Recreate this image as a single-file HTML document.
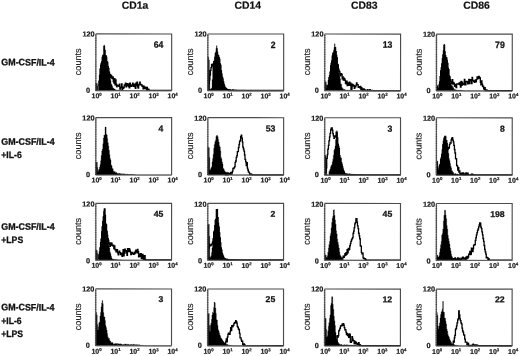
<!DOCTYPE html>
<html lang="en"><head><meta charset="utf-8"><title>Flow cytometry histograms</title>
<style>html,body{margin:0;padding:0;background:#fff}body{width:520px;height:356px;overflow:hidden}svg{display:block}text{font-family:"Liberation Sans",Arial,Helvetica,sans-serif;fill:#111;stroke:#111;stroke-width:.3px;stroke-linejoin:round}.h{font-size:10.4px;font-weight:bold;stroke-width:.2px}.r{font-size:9.4px;font-weight:bold}.n{font-weight:bold;text-anchor:end;stroke-width:.25px}.t{font-size:7.3px;font-weight:bold;fill:#1a1a1a;stroke-width:.2px}.c{font-size:9.1px;fill:#222;stroke:#222;stroke-width:.15px}.x{font-size:7px;font-weight:bold;fill:#1a1a1a;stroke-width:.2px}.s{font-size:4.3px;stroke-width:.2px}</style></head><body>
<svg width="520" height="356" viewBox="0 0 520 356" style="will-change:transform">
<rect width="520" height="356" fill="#fff"/>
<g transform="rotate(0.03 260 178)">
<text class="h" x="121.7" y="8.7">CD1a</text>
<text class="h" x="234.3" y="8.7">CD14</text>
<text class="h" x="350.9" y="8.7">CD83</text>
<text class="h" x="463.2" y="8.7">CD86</text>
<text class="r" x="1.3" y="65.5" textLength="53.3" lengthAdjust="spacingAndGlyphs">GM-CSF/IL-4</text>
<text class="r" x="1.3" y="144.8" textLength="53.3" lengthAdjust="spacingAndGlyphs">GM-CSF/IL-4</text>
<text class="r" x="1.3" y="158.0" textLength="20.4" lengthAdjust="spacingAndGlyphs">+IL-6</text>
<text class="r" x="1.3" y="229.8" textLength="53.3" lengthAdjust="spacingAndGlyphs">GM-CSF/IL-4</text>
<text class="r" x="1.3" y="243.0" textLength="21.9" lengthAdjust="spacingAndGlyphs">+LPS</text>
<text class="r" x="1.3" y="310.5" textLength="53.3" lengthAdjust="spacingAndGlyphs">GM-CSF/IL-4</text>
<text class="r" x="1.3" y="323.8" textLength="20.4" lengthAdjust="spacingAndGlyphs">+IL-6</text>
<text class="r" x="1.3" y="336.7" textLength="21.9" lengthAdjust="spacingAndGlyphs">+LPS</text>
<g>
<path d="M95.6,90.8V83.4H96.2V83.1H96.7V83.7H97.3V86.1H97.8V90.5H98.4V84.8H98.9V80.6H99.5V74.9H100.0V68.6H100.6V64.8H101.1V62.9H101.7V61.3H102.2V56.8H102.8V55.0H103.3V55.5H103.9V45.1H104.4V50.0H105.0V57.7H105.5V55.4H106.1V56.9H106.6V61.4H107.2V61.9H107.7V66.2H108.3V68.0H108.8V72.2H109.4V77.0H109.9V78.9H110.5V80.6H111.0V84.0H111.6V84.9H112.1V86.3H112.7V88.2H113.2V88.3H113.8V89.2H114.3V89.1H114.9V89.7H115.4V90.1H116.0V90.3H116.5V90.0H117.1V90.1H117.6V90.6H118.2V90.0H118.7V90.2H119.3V90.2H119.8V90.2H120.4V90.8H120.9V90.4H121.5V90.3H122.0V90.4H122.6V90.7H123.1V90.4H123.7V90.6H124.2V90.7H124.8V90.6H125.3V90.8H125.9V90.4H126.4V90.8H127.0V90.8H127.5V90.8H128.1V90.8H128.6V90.8H129.2V90.8H129.7V90.8H130.3V90.8H130.8V90.8H131.4V90.8H131.9V90.8H132.5V90.8H133.0V90.8H133.6V90.8H134.2V90.8H134.7V90.8H135.3V90.8H135.8V90.8H136.4V90.8H136.9V90.8H137.5V90.8H138.0V90.8H138.6V90.8H139.1V90.8H139.7V90.8H140.2V90.8H140.8V90.8H141.3V90.8H141.9V90.8H142.4V90.8H143.0V90.8H143.5V90.8H144.1V90.8H144.6V90.8H145.2V90.8H145.7V90.8H146.3V90.8H146.8V90.8H147.4V90.8H147.9V90.8H148.5V90.8H149.0V90.8H149.6V90.8H150.1V90.8H150.7V90.8H151.2V90.8H151.8V90.8H152.3V90.8H152.9V90.8H153.4V90.8H154.0V90.8H154.5V90.8H155.1V90.8H155.6V90.8H156.2V90.8H156.7V90.8H157.3V90.8H157.8V90.8H158.4V90.8H158.9V90.8H159.5V90.8H160.0V90.8H160.6V90.8H161.1V90.8H161.7V90.8H162.2V90.8H162.8V90.8H163.3V90.8H163.9V90.8H164.4V90.8H165.0V90.8H165.5V90.8H166.1V90.8H166.6V90.8H167.2V90.8H167.7V90.8H168.3V90.8H168.8V90.8H169.4V90.8H169.9V90.8H170.5V90.8H171.0V90.8H171.6V90.8Z" fill="#000" stroke="#000" stroke-width="0.3" stroke-linejoin="miter"/>
<path d="M98.4,85.4H98.9V81.2H99.5V75.5H100.0V69.2H100.6V65.4H101.1V63.5H101.7V61.9H102.2V57.4H102.8V55.6H103.3V56.1H103.9V46.5H104.4V50.6H105.0V58.3H105.5V56.0H106.1V57.5H106.6V62.0H107.2V62.5H107.7V66.8H108.3V68.5H108.8V72.2H109.4V76.6H109.9V74.5H110.5V77.9H111.0V75.4H111.6V77.1H112.1V78.8H112.7V76.9H113.2V81.8H113.8V83.2H114.3V78.7H114.9V85.0H115.4V79.9H116.0V84.1H116.5V86.8H117.1V85.2H117.6V85.5H118.2V85.6H118.7V86.5H119.3V84.3H119.8V89.2H120.4V87.5H120.9V87.1H121.5V83.9H122.0V89.4H122.6V87.1H123.1V88.4H123.7V87.5H124.2V85.0H124.8V85.3H125.3V83.3H125.9V87.0H126.4V85.4H127.0V83.7H127.5V84.3H128.1V86.6H128.6V84.0H129.2V87.8H129.7V83.3H130.3V86.0H130.8V86.5H131.4V85.9H131.9V84.7H132.5V83.1H133.0V86.1H133.6V86.4H134.2V84.3H134.7V87.0H135.3V88.3H135.8V83.2H136.4V85.5H136.9V82.3H137.5V86.8H138.0V88.1H138.6V84.4H139.1V84.8H139.7V82.1H140.2V84.4H140.8V84.9H141.3V84.6H141.9V86.5H142.4V86.0H143.0V88.9H143.5V86.1H144.1V88.7H144.6V88.5H145.2V87.3H145.7V87.4H146.3V90.2H146.8V87.5H147.4V90.3H147.9V89.2H148.5V89.5H149.0V90.4H149.6V90.5H150.1V90.5H150.7V90.5H151.2V90.5H151.8V90.5H152.3V90.5H152.9V90.5H153.4V90.5H154.0V90.5H154.5V90.5H155.1V90.5H155.6V90.5H156.2V90.5H156.7V90.5H157.3V90.5H157.8V90.5H158.4V90.5H158.9V90.5H159.5V90.5H160.0V90.5H160.6V90.5H161.1V90.5H161.7V90.5H162.2V90.5H162.8V90.5H163.3V90.5H163.9V90.5H164.4V90.5H165.0V90.5H165.5V90.5H166.1V90.5H166.6V90.5H167.2V90.5H167.7V90.5H168.3V90.5H168.8V90.5H169.4V90.5H169.9V90.5H170.5V90.5H171.0V90.5H171.6" fill="none" stroke="#000" stroke-width="1.3" stroke-linejoin="miter"/>
<path d="M95.6,34.0H171.6V90.8" fill="none" stroke="#4c4c4c" stroke-width="1.15"/>
<path d="M95.6,90.8H171.6" fill="none" stroke="#5e5e5e" stroke-width="1.05"/>
<line x1="95.80" y1="34.0" x2="95.80" y2="90.8" stroke="#666" stroke-width="1.2"/>
<line x1="95.75" y1="35.0" x2="95.75" y2="90.8" stroke="#1c1c1c" stroke-width="1.7" stroke-dasharray="0.95 0.78" opacity="0.5"/>
<text class="t" x="94.5" y="36.6" text-anchor="end">120</text>
<text class="t" x="90.0" y="92.8" text-anchor="end">0</text>
<text class="c" transform="translate(81.0,61.9) rotate(-90)" text-anchor="middle">counts</text>
<text class="x" x="96.6" y="98.4" text-anchor="middle">10<tspan class="s" dy="-2.6">0</tspan></text>
<text class="x" x="115.6" y="98.4" text-anchor="middle">10<tspan class="s" dy="-2.6">1</tspan></text>
<text class="x" x="134.6" y="98.4" text-anchor="middle">10<tspan class="s" dy="-2.6">2</tspan></text>
<text class="x" x="153.6" y="98.4" text-anchor="middle">10<tspan class="s" dy="-2.6">3</tspan></text>
<text class="x" x="172.6" y="98.4" text-anchor="middle">10<tspan class="s" dy="-2.6">4</tspan></text>
<text class="n" x="163.4" y="47.8" font-size="9.3px" textLength="9.7" lengthAdjust="spacingAndGlyphs">64</text>
</g>
<g>
<path d="M207.6,90.8V56.9H208.2V57.4H208.7V60.1H209.3V70.0H209.8V89.0H210.4V89.3H210.9V88.7H211.5V88.0H212.0V79.6H212.6V65.5H213.1V63.2H213.7V61.0H214.2V60.8H214.8V56.8H215.3V53.0H215.9V51.9H216.4V45.7H217.0V51.9H217.5V54.7H218.1V55.3H218.6V57.1H219.2V58.9H219.7V63.5H220.3V64.8H220.8V70.4H221.4V73.6H221.9V76.8H222.5V78.3H223.0V81.3H223.6V83.7H224.1V85.5H224.7V87.1H225.2V88.6H225.8V87.9H226.3V88.5H226.9V89.1H227.4V89.8H228.0V89.7H228.5V89.3H229.1V90.1H229.6V89.3H230.2V90.1H230.7V90.1H231.3V90.2H231.8V89.7H232.4V89.6H232.9V89.6H233.5V90.3H234.0V90.1H234.6V89.8H235.1V90.4H235.7V89.8H236.2V90.5H236.8V89.9H237.3V90.4H237.9V90.5H238.4V90.3H239.0V90.3H239.5V90.8H240.1V90.4H240.6V90.2H241.2V90.5H241.7V90.2H242.3V90.4H242.8V90.2H243.4V90.4H243.9V90.4H244.5V90.4H245.0V90.5H245.6V90.4H246.2V90.7H246.7V90.4H247.3V90.7H247.8V90.4H248.4V90.7H248.9V90.8H249.5V90.8H250.0V90.8H250.6V90.8H251.1V90.8H251.7V90.8H252.2V90.8H252.8V90.8H253.3V90.8H253.9V90.8H254.4V90.8H255.0V90.8H255.5V90.8H256.1V90.8H256.6V90.8H257.2V90.8H257.7V90.8H258.3V90.8H258.8V90.8H259.4V90.8H259.9V90.8H260.5V90.8H261.0V90.8H261.6V90.8H262.1V90.8H262.7V90.8H263.2V90.8H263.8V90.8H264.3V90.8H264.9V90.8H265.4V90.8H266.0V90.8H266.5V90.8H267.1V90.8H267.6V90.8H268.2V90.8H268.7V90.8H269.3V90.8H269.8V90.8H270.4V90.8H270.9V90.8H271.5V90.8H272.0V90.8H272.6V90.8H273.1V90.8H273.7V90.8H274.2V90.8H274.8V90.8H275.3V90.8H275.9V90.8H276.4V90.8H277.0V90.8H277.5V90.8H278.1V90.8H278.6V90.8H279.2V90.8H279.7V90.8H280.3V90.8H280.8V90.8H281.4V90.8H281.9V90.8H282.5V90.8H283.0V90.8H283.6V90.8Z" fill="#000" stroke="#000" stroke-width="0.3" stroke-linejoin="miter"/>
<path d="M208.7,83.7H209.3V79.9H209.8V75.2H210.4V70.4H210.9V67.7H211.5V64.5H212.0V64.4H212.6V66.1H213.1V63.8H213.7V61.6H214.2V61.4H214.8V57.4H215.3V53.6H215.9V52.5H216.4V49.0H217.0V52.5H217.5V55.3H218.1V55.9H218.6V57.7H219.2V59.5H219.7V64.1H220.3V65.4H220.8V71.0H221.4V74.2H221.9V77.4H222.5V78.9H223.0V81.9H223.6V84.3H224.1V86.1H224.7V87.7H225.2V89.2H225.8V88.5H226.3V89.1H226.9V89.7H227.4V90.4H228.0V90.3H228.5V89.9H229.1V90.5H229.6V89.9H230.2V90.5H230.7V90.5H231.3V90.5H231.8V90.3H232.4V90.2H232.9V90.2H233.5V90.5H234.0V90.5H234.6V90.4H235.1V90.5H235.7V90.4H236.2V90.5H236.8V90.5H237.3V90.5H237.9V90.5H238.4V90.5H239.0V90.5H239.5V90.5H240.1V90.5H240.6V90.5H241.2V90.5H241.7V90.5H242.3V90.5H242.8V90.5H243.4V90.5H243.9V90.5H244.5V90.5H245.0V90.5H245.6V90.5H246.2V90.5H246.7V90.5H247.3V90.5H247.8V90.5H248.4V90.5H248.9V90.5H249.5V90.5H250.0V90.5H250.6V90.5H251.1V90.5H251.7V90.5H252.2V90.5H252.8V90.5H253.3V90.5H253.9V90.5H254.4V90.5H255.0V90.5H255.5V90.5H256.1V90.5H256.6V90.5H257.2V90.5H257.7V90.5H258.3V90.5H258.8V90.5H259.4V90.5H259.9V90.5H260.5V90.5H261.0V90.5H261.6V90.5H262.1V90.5H262.7V90.5H263.2V90.5H263.8V90.5H264.3V90.5H264.9V90.5H265.4V90.5H266.0V90.5H266.5V90.5H267.1V90.5H267.6V90.5H268.2V90.5H268.7V90.5H269.3V90.5H269.8V90.5H270.4V90.5H270.9V90.5H271.5V90.5H272.0V90.5H272.6V90.5H273.1V90.5H273.7V90.5H274.2V90.5H274.8V90.5H275.3V90.5H275.9V90.5H276.4V90.5H277.0V90.5H277.5V90.5H278.1V90.5H278.6V90.5H279.2V90.5H279.7V90.5H280.3V90.5H280.8V90.5H281.4V90.5H281.9V90.5H282.5V90.5H283.0V90.5H283.6" fill="none" stroke="#000" stroke-width="1.3" stroke-linejoin="miter"/>
<path d="M207.6,34.0H283.6V90.8" fill="none" stroke="#4c4c4c" stroke-width="1.15"/>
<path d="M207.6,90.8H283.6" fill="none" stroke="#5e5e5e" stroke-width="1.05"/>
<line x1="207.80" y1="34.0" x2="207.80" y2="90.8" stroke="#666" stroke-width="1.2"/>
<line x1="207.75" y1="35.0" x2="207.75" y2="90.8" stroke="#1c1c1c" stroke-width="1.7" stroke-dasharray="0.95 0.78" opacity="0.5"/>
<text class="t" x="206.5" y="36.6" text-anchor="end">120</text>
<text class="t" x="202.0" y="92.8" text-anchor="end">0</text>
<text class="c" transform="translate(193.0,61.9) rotate(-90)" text-anchor="middle">counts</text>
<text class="x" x="208.6" y="98.4" text-anchor="middle">10<tspan class="s" dy="-2.6">0</tspan></text>
<text class="x" x="227.6" y="98.4" text-anchor="middle">10<tspan class="s" dy="-2.6">1</tspan></text>
<text class="x" x="246.6" y="98.4" text-anchor="middle">10<tspan class="s" dy="-2.6">2</tspan></text>
<text class="x" x="265.6" y="98.4" text-anchor="middle">10<tspan class="s" dy="-2.6">3</tspan></text>
<text class="x" x="284.6" y="98.4" text-anchor="middle">10<tspan class="s" dy="-2.6">4</tspan></text>
<text class="n" x="275.4" y="47.8" font-size="9.3px" textLength="4.8" lengthAdjust="spacingAndGlyphs">2</text>
</g>
<g>
<path d="M324.5,90.8V81.6H325.1V81.7H325.6V81.8H326.2V84.8H326.7V88.0H327.3V85.6H327.8V84.8H328.4V80.0H328.9V77.0H329.5V75.0H330.0V71.6H330.6V65.3H331.1V62.8H331.7V60.2H332.2V55.5H332.8V52.8H333.3V52.4H333.9V50.2H334.4V43.7H335.0V47.0H335.5V51.1H336.1V54.7H336.6V57.3H337.2V63.7H337.7V64.4H338.3V68.2H338.8V72.7H339.4V76.3H339.9V78.7H340.5V83.6H341.0V84.3H341.6V87.1H342.1V88.1H342.7V88.6H343.2V89.4H343.8V89.3H344.3V89.5H344.9V89.9H345.4V90.0H346.0V90.1H346.5V90.3H347.1V90.0H347.6V90.2H348.2V90.2H348.7V90.4H349.3V90.1H349.8V90.3H350.4V90.5H350.9V90.8H351.5V90.5H352.0V90.5H352.6V90.6H353.1V90.7H353.7V90.8H354.2V90.4H354.8V90.5H355.3V90.8H355.9V90.8H356.4V90.8H357.0V90.8H357.5V90.8H358.1V90.8H358.6V90.8H359.2V90.8H359.7V90.8H360.3V90.8H360.8V90.8H361.4V90.8H361.9V90.8H362.5V90.8H363.1V90.8H363.6V90.8H364.2V90.8H364.7V90.8H365.3V90.8H365.8V90.8H366.4V90.8H366.9V90.8H367.5V90.8H368.0V90.8H368.6V90.8H369.1V90.8H369.7V90.8H370.2V90.8H370.8V90.8H371.3V90.8H371.9V90.8H372.4V90.8H373.0V90.8H373.5V90.8H374.1V90.8H374.6V90.8H375.2V90.8H375.7V90.8H376.3V90.8H376.8V90.8H377.4V90.8H377.9V90.8H378.5V90.8H379.0V90.8H379.6V90.8H380.1V90.8H380.7V90.8H381.2V90.8H381.8V90.8H382.3V90.8H382.9V90.8H383.4V90.8H384.0V90.8H384.5V90.8H385.1V90.8H385.6V90.8H386.2V90.8H386.7V90.8H387.3V90.8H387.8V90.8H388.4V90.8H388.9V90.8H389.5V90.8H390.0V90.8H390.6V90.8H391.1V90.8H391.7V90.8H392.2V90.8H392.8V90.8H393.3V90.8H393.9V90.8H394.4V90.8H395.0V90.8H395.5V90.8H396.1V90.8H396.6V90.8H397.2V90.8H397.7V90.8H398.3V90.8H398.8V90.8H399.4V90.8H399.9V90.8H400.5V90.8Z" fill="#000" stroke="#000" stroke-width="0.3" stroke-linejoin="miter"/>
<path d="M326.7,88.6H327.3V86.2H327.8V85.4H328.4V80.6H328.9V77.6H329.5V75.6H330.0V72.2H330.6V65.9H331.1V63.4H331.7V60.8H332.2V56.1H332.8V53.4H333.3V53.0H333.9V50.8H334.4V48.2H335.0V47.6H335.5V51.7H336.1V55.3H336.6V57.9H337.2V64.3H337.7V65.0H338.3V69.1H338.8V70.8H339.4V71.8H339.9V75.7H340.5V73.6H341.0V73.6H341.6V74.7H342.1V78.8H342.7V76.8H343.2V80.0H343.8V78.1H344.3V78.8H344.9V80.4H345.4V83.3H346.0V83.7H346.5V81.1H347.1V85.5H347.6V82.9H348.2V83.3H348.7V85.3H349.3V82.0H349.8V85.4H350.4V83.0H350.9V89.2H351.5V89.1H352.0V84.1H352.6V84.5H353.1V86.1H353.7V85.4H354.2V88.3H354.8V86.2H355.3V86.9H355.9V85.1H356.4V82.8H357.0V84.9H357.5V84.7H358.1V87.2H358.6V87.1H359.2V86.7H359.7V87.9H360.3V86.3H360.8V89.9H361.4V87.6H361.9V90.5H362.5V88.8H363.1V90.5H363.6V88.9H364.2V90.3H364.7V90.1H365.3V89.9H365.8V90.5H366.4V90.5H366.9V90.5H367.5V89.7H368.0V90.5H368.6V90.5H369.1V90.5H369.7V89.5H370.2V90.5H370.8V90.5H371.3V90.5H371.9V90.4H372.4V90.5H373.0V90.5H373.5V90.5H374.1V90.5H374.6V90.5H375.2V90.5H375.7V90.5H376.3V90.5H376.8V90.5H377.4V90.5H377.9V90.5H378.5V90.5H379.0V90.5H379.6V90.5H380.1V90.5H380.7V90.5H381.2V90.5H381.8V90.5H382.3V90.5H382.9V90.5H383.4V90.5H384.0V90.5H384.5V90.5H385.1V90.5H385.6V90.5H386.2V90.5H386.7V90.5H387.3V90.5H387.8V90.5H388.4V90.5H388.9V90.5H389.5V90.5H390.0V90.5H390.6V90.5H391.1V90.5H391.7V90.5H392.2V90.5H392.8V90.5H393.3V90.5H393.9V90.5H394.4V90.5H395.0V90.5H395.5V90.5H396.1V90.5H396.6V90.5H397.2V90.5H397.7V90.5H398.3V90.5H398.8V90.5H399.4V90.5H399.9V90.5H400.5" fill="none" stroke="#000" stroke-width="1.3" stroke-linejoin="miter"/>
<path d="M324.5,34.0H400.5V90.8" fill="none" stroke="#4c4c4c" stroke-width="1.15"/>
<path d="M324.5,90.8H400.5" fill="none" stroke="#5e5e5e" stroke-width="1.05"/>
<line x1="324.70" y1="34.0" x2="324.70" y2="90.8" stroke="#666" stroke-width="1.2"/>
<line x1="324.65" y1="35.0" x2="324.65" y2="90.8" stroke="#1c1c1c" stroke-width="1.7" stroke-dasharray="0.95 0.78" opacity="0.5"/>
<text class="t" x="323.4" y="36.6" text-anchor="end">120</text>
<text class="t" x="318.9" y="92.8" text-anchor="end">0</text>
<text class="c" transform="translate(309.9,61.9) rotate(-90)" text-anchor="middle">counts</text>
<text class="x" x="325.5" y="98.4" text-anchor="middle">10<tspan class="s" dy="-2.6">0</tspan></text>
<text class="x" x="344.5" y="98.4" text-anchor="middle">10<tspan class="s" dy="-2.6">1</tspan></text>
<text class="x" x="363.5" y="98.4" text-anchor="middle">10<tspan class="s" dy="-2.6">2</tspan></text>
<text class="x" x="382.5" y="98.4" text-anchor="middle">10<tspan class="s" dy="-2.6">3</tspan></text>
<text class="x" x="401.5" y="98.4" text-anchor="middle">10<tspan class="s" dy="-2.6">4</tspan></text>
<text class="n" x="392.3" y="47.8" font-size="9.3px" textLength="9.7" lengthAdjust="spacingAndGlyphs">13</text>
</g>
<g>
<path d="M436.2,90.8V85.4H436.8V85.2H437.3V85.7H437.9V87.3H438.4V88.2H439.0V84.1H439.5V81.4H440.1V75.9H440.6V70.2H441.2V67.2H441.7V63.3H442.3V58.3H442.8V54.4H443.4V50.4H443.9V44.0H444.5V51.1H445.0V55.0H445.6V58.8H446.1V57.1H446.7V59.8H447.2V62.6H447.8V67.7H448.3V69.0H448.9V75.5H449.4V76.3H450.0V79.1H450.5V83.0H451.1V84.3H451.6V85.3H452.2V86.2H452.7V87.4H453.3V87.7H453.8V89.3H454.4V89.2H454.9V89.8H455.5V89.6H456.0V90.0H456.6V89.9H457.1V90.3H457.7V90.3H458.2V90.2H458.8V89.9H459.3V90.3H459.9V90.2H460.4V90.3H461.0V90.4H461.5V90.3H462.1V90.4H462.6V90.7H463.2V90.8H463.7V90.8H464.3V90.8H464.8V90.8H465.4V90.8H465.9V90.8H466.5V90.8H467.0V90.8H467.6V90.8H468.1V90.8H468.7V90.8H469.2V90.8H469.8V90.8H470.3V90.8H470.9V90.8H471.4V90.8H472.0V90.8H472.5V90.8H473.1V90.8H473.6V90.8H474.2V90.8H474.8V90.8H475.3V90.8H475.9V90.8H476.4V90.8H477.0V90.8H477.5V90.8H478.1V90.8H478.6V90.8H479.2V90.8H479.7V90.8H480.3V90.8H480.8V90.8H481.4V90.8H481.9V90.8H482.5V90.8H483.0V90.8H483.6V90.8H484.1V90.8H484.7V90.8H485.2V90.8H485.8V90.8H486.3V90.8H486.9V90.8H487.4V90.8H488.0V90.8H488.5V90.8H489.1V90.8H489.6V90.8H490.2V90.8H490.7V90.8H491.3V90.8H491.8V90.8H492.4V90.8H492.9V90.8H493.5V90.8H494.0V90.8H494.6V90.8H495.1V90.8H495.7V90.8H496.2V90.8H496.8V90.8H497.3V90.8H497.9V90.8H498.4V90.8H499.0V90.8H499.5V90.8H500.1V90.8H500.6V90.8H501.2V90.8H501.7V90.8H502.3V90.8H502.8V90.8H503.4V90.8H503.9V90.8H504.5V90.8H505.0V90.8H505.6V90.8H506.1V90.8H506.7V90.8H507.2V90.8H507.8V90.8H508.3V90.8H508.9V90.8H509.4V90.8H510.0V90.8H510.5V90.8H511.1V90.8H511.6V90.8H512.2V90.8Z" fill="#000" stroke="#000" stroke-width="0.3" stroke-linejoin="miter"/>
<path d="M438.4,88.8H439.0V84.7H439.5V82.0H440.1V76.5H440.6V70.8H441.2V67.8H441.7V63.9H442.3V58.9H442.8V55.0H443.4V51.0H443.9V45.3H444.5V51.7H445.0V55.6H445.6V59.4H446.1V57.7H446.7V60.4H447.2V63.2H447.8V68.3H448.3V69.6H448.9V76.1H449.4V76.7H450.0V79.5H450.5V82.0H451.1V81.2H451.6V83.2H452.2V79.5H452.7V83.9H453.3V82.3H453.8V83.4H454.4V85.9H454.9V86.2H455.5V84.2H456.0V87.5H456.6V84.1H457.1V83.9H457.7V83.8H458.2V84.1H458.8V83.1H459.3V84.5H459.9V82.2H460.4V87.1H461.0V81.4H461.5V85.3H462.1V82.1H462.6V84.0H463.2V83.8H463.7V84.4H464.3V79.4H464.8V84.7H465.4V84.8H465.9V81.4H466.5V81.2H467.0V81.6H467.6V83.7H468.1V82.9H468.7V79.4H469.2V83.5H469.8V79.9H470.3V79.6H470.9V80.7H471.4V83.5H472.0V77.4H472.5V80.4H473.1V80.2H473.6V81.3H474.2V82.3H474.8V80.8H475.3V79.7H475.9V81.7H476.4V79.3H477.0V76.9H477.5V77.9H478.1V78.5H478.6V76.3H479.2V77.2H479.7V77.9H480.3V82.2H480.8V84.7H481.4V80.8H481.9V84.1H482.5V86.4H483.0V86.0H483.6V88.4H484.1V89.3H484.7V87.5H485.2V90.5H485.8V89.7H486.3V89.9H486.9V90.5H487.4V90.5H488.0V90.5H488.5V90.5H489.1V90.5H489.6V90.5H490.2V90.5H490.7V90.5H491.3V90.5H491.8V90.5H492.4V90.5H492.9V90.5H493.5V90.5H494.0V90.5H494.6V90.5H495.1V90.5H495.7V90.5H496.2V90.5H496.8V90.5H497.3V90.5H497.9V90.5H498.4V90.5H499.0V90.5H499.5V90.5H500.1V90.5H500.6V90.5H501.2V90.5H501.7V90.5H502.3V90.5H502.8V90.5H503.4V90.5H503.9V90.5H504.5V90.5H505.0V90.5H505.6V90.5H506.1V90.5H506.7V90.5H507.2V90.5H507.8V90.5H508.3V90.5H508.9V90.5H509.4V90.5H510.0V90.5H510.5V90.5H511.1V90.5H511.6V90.5H512.2" fill="none" stroke="#000" stroke-width="1.3" stroke-linejoin="miter"/>
<path d="M436.2,34.0H512.2V90.8" fill="none" stroke="#4c4c4c" stroke-width="1.15"/>
<path d="M436.2,90.8H512.2" fill="none" stroke="#5e5e5e" stroke-width="1.05"/>
<line x1="436.40" y1="34.0" x2="436.40" y2="90.8" stroke="#666" stroke-width="1.2"/>
<line x1="436.35" y1="35.0" x2="436.35" y2="90.8" stroke="#1c1c1c" stroke-width="1.7" stroke-dasharray="0.95 0.78" opacity="0.5"/>
<text class="t" x="435.1" y="36.6" text-anchor="end">120</text>
<text class="t" x="430.6" y="92.8" text-anchor="end">0</text>
<text class="c" transform="translate(421.6,61.9) rotate(-90)" text-anchor="middle">counts</text>
<text class="x" x="437.2" y="98.4" text-anchor="middle">10<tspan class="s" dy="-2.6">0</tspan></text>
<text class="x" x="456.2" y="98.4" text-anchor="middle">10<tspan class="s" dy="-2.6">1</tspan></text>
<text class="x" x="475.2" y="98.4" text-anchor="middle">10<tspan class="s" dy="-2.6">2</tspan></text>
<text class="x" x="494.2" y="98.4" text-anchor="middle">10<tspan class="s" dy="-2.6">3</tspan></text>
<text class="x" x="513.2" y="98.4" text-anchor="middle">10<tspan class="s" dy="-2.6">4</tspan></text>
<text class="n" x="504.7" y="47.8" font-size="9.3px" textLength="9.7" lengthAdjust="spacingAndGlyphs">79</text>
</g>
<g>
<path d="M95.6,175.1V162.5H96.2V162.1H96.7V162.3H97.3V167.3H97.8V171.5H98.4V170.1H98.9V169.2H99.5V167.1H100.0V164.6H100.6V160.8H101.1V155.7H101.7V151.1H102.2V149.2H102.8V143.8H103.3V138.1H103.9V135.0H104.4V135.4H105.0V127.2H105.5V127.1H106.1V134.0H106.6V135.0H107.2V138.7H107.7V142.8H108.3V146.0H108.8V150.4H109.4V154.7H109.9V158.6H110.5V160.2H111.0V165.0H111.6V165.9H112.1V168.7H112.7V168.8H113.2V171.6H113.8V171.1H114.3V172.0H114.9V171.8H115.4V173.2H116.0V172.3H116.5V173.1H117.1V173.7H117.6V173.4H118.2V173.7H118.7V173.4H119.3V173.6H119.8V173.5H120.4V174.0H120.9V173.8H121.5V174.0H122.0V174.5H122.6V173.9H123.1V174.1H123.7V173.8H124.2V174.3H124.8V174.2H125.3V174.4H125.9V174.1H126.4V174.5H127.0V174.3H127.5V174.2H128.1V174.5H128.6V174.5H129.2V174.4H129.7V175.0H130.3V174.4H130.8V174.5H131.4V174.6H131.9V174.5H132.5V174.5H133.0V174.6H133.6V174.7H134.2V174.9H134.7V174.7H135.3V175.1H135.8V175.1H136.4V175.1H136.9V175.1H137.5V175.1H138.0V175.1H138.6V175.1H139.1V175.1H139.7V175.1H140.2V175.1H140.8V175.1H141.3V175.1H141.9V175.1H142.4V175.1H143.0V175.1H143.5V175.1H144.1V175.1H144.6V175.1H145.2V175.1H145.7V175.1H146.3V175.1H146.8V175.1H147.4V175.1H147.9V175.1H148.5V175.1H149.0V175.1H149.6V175.1H150.1V175.1H150.7V175.1H151.2V175.1H151.8V175.1H152.3V175.1H152.9V175.1H153.4V175.1H154.0V175.1H154.5V175.1H155.1V175.1H155.6V175.1H156.2V175.1H156.7V175.1H157.3V175.1H157.8V175.1H158.4V175.1H158.9V175.1H159.5V175.1H160.0V175.1H160.6V175.1H161.1V175.1H161.7V175.1H162.2V175.1H162.8V175.1H163.3V175.1H163.9V175.1H164.4V175.1H165.0V175.1H165.5V175.1H166.1V175.1H166.6V175.1H167.2V175.1H167.7V175.1H168.3V175.1H168.8V175.1H169.4V175.1H169.9V175.1H170.5V175.1H171.0V175.1H171.6V175.1Z" fill="#000" stroke="#000" stroke-width="0.3" stroke-linejoin="miter"/>
<path d="M95.6,117.7H171.6V175.1" fill="none" stroke="#4c4c4c" stroke-width="1.15"/>
<path d="M95.6,175.1H171.6" fill="none" stroke="#5e5e5e" stroke-width="1.05"/>
<line x1="95.80" y1="117.7" x2="95.80" y2="175.1" stroke="#666" stroke-width="1.2"/>
<line x1="95.75" y1="118.7" x2="95.75" y2="175.1" stroke="#1c1c1c" stroke-width="1.7" stroke-dasharray="0.95 0.78" opacity="0.5"/>
<text class="t" x="94.5" y="120.7" text-anchor="end">120</text>
<text class="t" x="90.0" y="177.1" text-anchor="end">0</text>
<text class="c" transform="translate(81.0,145.9) rotate(-90)" text-anchor="middle">counts</text>
<text class="x" x="96.6" y="182.6" text-anchor="middle">10<tspan class="s" dy="-2.6">0</tspan></text>
<text class="x" x="115.6" y="182.6" text-anchor="middle">10<tspan class="s" dy="-2.6">1</tspan></text>
<text class="x" x="134.6" y="182.6" text-anchor="middle">10<tspan class="s" dy="-2.6">2</tspan></text>
<text class="x" x="153.6" y="182.6" text-anchor="middle">10<tspan class="s" dy="-2.6">3</tspan></text>
<text class="x" x="172.6" y="182.6" text-anchor="middle">10<tspan class="s" dy="-2.6">4</tspan></text>
<text class="n" x="163.4" y="131.6" font-size="8.8px" textLength="4.8" lengthAdjust="spacingAndGlyphs">4</text>
</g>
<g>
<path d="M207.6,175.1V147.4H208.2V147.2H208.7V147.7H209.3V157.5H209.8V170.3H210.4V169.2H210.9V167.9H211.5V166.8H212.0V161.9H212.6V158.6H213.1V154.2H213.7V148.2H214.2V144.5H214.8V141.8H215.3V140.2H215.9V136.4H216.4V135.4H217.0V135.4H217.5V136.6H218.1V139.5H218.6V142.0H219.2V145.6H219.7V147.1H220.3V150.8H220.8V157.4H221.4V159.1H221.9V161.9H222.5V164.1H223.0V168.4H223.6V168.8H224.1V170.4H224.7V171.2H225.2V171.9H225.8V172.3H226.3V172.3H226.9V172.4H227.4V172.3H228.0V172.5H228.5V173.0H229.1V173.6H229.6V173.2H230.2V173.4H230.7V173.9H231.3V174.1H231.8V174.3H232.4V175.1H232.9V175.1H233.5V175.1H234.0V175.1H234.6V175.1H235.1V175.1H235.7V175.1H236.2V175.1H236.8V175.1H237.3V175.1H237.9V175.1H238.4V175.1H239.0V175.1H239.5V175.1H240.1V175.1H240.6V175.1H241.2V175.1H241.7V175.1H242.3V175.1H242.8V175.1H243.4V175.1H243.9V175.1H244.5V175.1H245.0V175.1H245.6V175.1H246.2V175.1H246.7V175.1H247.3V175.1H247.8V175.1H248.4V175.1H248.9V175.1H249.5V175.1H250.0V175.1H250.6V175.1H251.1V175.1H251.7V175.1H252.2V175.1H252.8V175.1H253.3V175.1H253.9V175.1H254.4V175.1H255.0V175.1H255.5V175.1H256.1V175.1H256.6V175.1H257.2V175.1H257.7V175.1H258.3V175.1H258.8V175.1H259.4V175.1H259.9V175.1H260.5V175.1H261.0V175.1H261.6V175.1H262.1V175.1H262.7V175.1H263.2V175.1H263.8V175.1H264.3V175.1H264.9V175.1H265.4V175.1H266.0V175.1H266.5V175.1H267.1V175.1H267.6V175.1H268.2V175.1H268.7V175.1H269.3V175.1H269.8V175.1H270.4V175.1H270.9V175.1H271.5V175.1H272.0V175.1H272.6V175.1H273.1V175.1H273.7V175.1H274.2V175.1H274.8V175.1H275.3V175.1H275.9V175.1H276.4V175.1H277.0V175.1H277.5V175.1H278.1V175.1H278.6V175.1H279.2V175.1H279.7V175.1H280.3V175.1H280.8V175.1H281.4V175.1H281.9V175.1H282.5V175.1H283.0V175.1H283.6V175.1Z" fill="#000" stroke="#000" stroke-width="0.3" stroke-linejoin="miter"/>
<path d="M224.7,174.8H225.2V174.8H225.8V174.8H226.3V173.6H226.9V174.5H227.4V174.8H228.0V173.3H228.5V174.1H229.1V174.2H229.6V173.5H230.2V173.7H230.7V172.3H231.3V172.8H231.8V173.0H232.4V171.1H232.9V168.3H233.5V168.5H234.0V167.6H234.6V166.7H235.1V162.3H235.7V161.0H236.2V157.4H236.8V155.6H237.3V151.7H237.9V151.7H238.4V147.7H239.0V144.5H239.5V141.4H240.1V140.3H240.6V136.7H241.2V135.1H241.7V138.1H242.3V142.1H242.8V147.1H243.4V149.0H243.9V151.1H244.5V155.0H245.0V159.4H245.6V161.9H246.2V165.6H246.7V162.6H247.3V168.1H247.8V170.0H248.4V172.1H248.9V172.2H249.5V174.1H250.0V174.6H250.6V174.0H251.1V174.7H251.7V174.5H252.2V174.8H252.8V174.8H253.3V174.8H253.9V174.8H254.4V174.8H255.0V174.8H255.5V174.8H256.1V174.8H256.6V174.8H257.2V174.8H257.7V174.8H258.3V174.8H258.8V174.8H259.4V174.8H259.9V174.8H260.5V174.8H261.0V174.8H261.6V174.8H262.1V174.8H262.7V174.8H263.2V174.8H263.8V174.8H264.3V174.8H264.9V174.8H265.4V174.8H266.0V174.8H266.5V174.8H267.1V174.8H267.6V174.8H268.2V174.8H268.7V174.8H269.3V174.8H269.8V174.8H270.4V174.8H270.9V174.8H271.5V174.8H272.0V174.8H272.6V174.8H273.1V174.8H273.7V174.8H274.2V174.8H274.8V174.8H275.3V174.8H275.9V174.8H276.4V174.8H277.0V174.8H277.5V174.8H278.1V174.8H278.6V174.8H279.2V174.8H279.7V174.8H280.3V174.8H280.8V174.8H281.4V174.8H281.9V174.8H282.5V174.8H283.0V174.8H283.6" fill="none" stroke="#000" stroke-width="1.3" stroke-linejoin="miter"/>
<path d="M207.6,117.7H283.6V175.1" fill="none" stroke="#4c4c4c" stroke-width="1.15"/>
<path d="M207.6,175.1H283.6" fill="none" stroke="#5e5e5e" stroke-width="1.05"/>
<line x1="207.80" y1="117.7" x2="207.80" y2="175.1" stroke="#666" stroke-width="1.2"/>
<line x1="207.75" y1="118.7" x2="207.75" y2="175.1" stroke="#1c1c1c" stroke-width="1.7" stroke-dasharray="0.95 0.78" opacity="0.5"/>
<text class="t" x="206.5" y="120.7" text-anchor="end">120</text>
<text class="t" x="202.0" y="177.1" text-anchor="end">0</text>
<text class="c" transform="translate(193.0,145.9) rotate(-90)" text-anchor="middle">counts</text>
<text class="x" x="208.6" y="182.6" text-anchor="middle">10<tspan class="s" dy="-2.6">0</tspan></text>
<text class="x" x="227.6" y="182.6" text-anchor="middle">10<tspan class="s" dy="-2.6">1</tspan></text>
<text class="x" x="246.6" y="182.6" text-anchor="middle">10<tspan class="s" dy="-2.6">2</tspan></text>
<text class="x" x="265.6" y="182.6" text-anchor="middle">10<tspan class="s" dy="-2.6">3</tspan></text>
<text class="x" x="284.6" y="182.6" text-anchor="middle">10<tspan class="s" dy="-2.6">4</tspan></text>
<text class="n" x="275.4" y="131.6" font-size="8.8px" textLength="9.7" lengthAdjust="spacingAndGlyphs">53</text>
</g>
<g>
<path d="M324.5,175.1V155.1H325.1V155.3H325.6V155.8H326.2V162.6H326.7V174.4H327.3V175.0H327.8V175.1H328.4V175.1H328.9V171.4H329.5V170.2H330.0V168.8H330.6V166.7H331.1V165.3H331.7V164.7H332.2V161.8H332.8V159.1H333.3V155.1H333.9V150.2H334.4V148.9H335.0V145.9H335.5V139.4H336.1V136.9H336.6V130.7H337.2V137.2H337.7V143.8H338.3V145.7H338.8V148.1H339.4V155.0H339.9V157.7H340.5V157.7H341.0V161.9H341.6V163.7H342.1V166.3H342.7V168.6H343.2V170.2H343.8V171.4H344.3V172.7H344.9V174.1H345.4V174.1H346.0V173.5H346.5V174.2H347.1V173.8H347.6V174.0H348.2V174.1H348.7V173.9H349.3V173.8H349.8V173.9H350.4V174.3H350.9V173.9H351.5V174.4H352.0V174.3H352.6V174.2H353.1V174.4H353.7V174.4H354.2V174.2H354.8V174.5H355.3V174.4H355.9V174.6H356.4V174.7H357.0V174.5H357.5V174.7H358.1V174.5H358.6V174.5H359.2V174.8H359.7V174.6H360.3V174.5H360.8V174.7H361.4V174.9H361.9V174.7H362.5V174.7H363.1V175.0H363.6V174.9H364.2V175.1H364.7V175.1H365.3V175.1H365.8V175.1H366.4V175.1H366.9V175.1H367.5V175.1H368.0V175.1H368.6V175.1H369.1V175.1H369.7V175.1H370.2V175.1H370.8V175.1H371.3V175.1H371.9V175.1H372.4V175.1H373.0V175.1H373.5V175.1H374.1V175.1H374.6V175.1H375.2V175.1H375.7V175.1H376.3V175.1H376.8V175.1H377.4V175.1H377.9V175.1H378.5V175.1H379.0V175.1H379.6V175.1H380.1V175.1H380.7V175.1H381.2V175.1H381.8V175.1H382.3V175.1H382.9V175.1H383.4V175.1H384.0V175.1H384.5V175.1H385.1V175.1H385.6V175.1H386.2V175.1H386.7V175.1H387.3V175.1H387.8V175.1H388.4V175.1H388.9V175.1H389.5V175.1H390.0V175.1H390.6V175.1H391.1V175.1H391.7V175.1H392.2V175.1H392.8V175.1H393.3V175.1H393.9V175.1H394.4V175.1H395.0V175.1H395.5V175.1H396.1V175.1H396.6V175.1H397.2V175.1H397.7V175.1H398.3V175.1H398.8V175.1H399.4V175.1H399.9V175.1H400.5V175.1Z" fill="#000" stroke="#000" stroke-width="0.3" stroke-linejoin="miter"/>
<path d="M325.6,172.5H326.2V167.8H326.7V158.4H327.3V154.5H327.8V149.1H328.4V145.4H328.9V140.9H329.5V136.9H330.0V133.4H330.6V129.9H331.1V128.1H331.7V127.9H332.2V130.1H332.8V133.6H333.3V135.8H333.9V138.3H334.4V137.1H335.0V135.8H335.5V136.8H336.1V132.2H336.6V132.8H337.2V137.8H337.7V144.4H338.3V146.3H338.8V148.7H339.4V155.6H339.9V158.3H340.5V158.3H341.0V162.5H341.6V164.3H342.1V166.9H342.7V169.2H343.2V170.8H343.8V172.0H344.3V173.3H344.9V174.7H345.4V174.7H346.0V174.1H346.5V174.8H347.1V174.4H347.6V174.6H348.2V174.7H348.7V174.5H349.3V174.4H349.8V174.5H350.4V174.8H350.9V174.5H351.5V174.8H352.0V174.8H352.6V174.8H353.1V174.8H353.7V174.8H354.2V174.8H354.8V174.8H355.3V174.8H355.9V174.8H356.4V174.8H357.0V174.8H357.5V174.8H358.1V174.8H358.6V174.8H359.2V174.8H359.7V174.8H360.3V174.8H360.8V174.8H361.4V174.8H361.9V174.8H362.5V174.8H363.1V174.8H363.6V174.8H364.2V174.8H364.7V174.8H365.3V174.8H365.8V174.8H366.4V174.8H366.9V174.8H367.5V174.8H368.0V174.8H368.6V174.8H369.1V174.8H369.7V174.8H370.2V174.8H370.8V174.8H371.3V174.8H371.9V174.8H372.4V174.8H373.0V174.8H373.5V174.8H374.1V174.8H374.6V174.8H375.2V174.8H375.7V174.8H376.3V174.8H376.8V174.8H377.4V174.8H377.9V174.8H378.5V174.8H379.0V174.8H379.6V174.8H380.1V174.8H380.7V174.8H381.2V174.8H381.8V174.8H382.3V174.8H382.9V174.8H383.4V174.8H384.0V174.8H384.5V174.8H385.1V174.8H385.6V174.8H386.2V174.8H386.7V174.8H387.3V174.8H387.8V174.8H388.4V174.8H388.9V174.8H389.5V174.8H390.0V174.8H390.6V174.8H391.1V174.8H391.7V174.8H392.2V174.8H392.8V174.8H393.3V174.8H393.9V174.8H394.4V174.8H395.0V174.8H395.5V174.8H396.1V174.8H396.6V174.8H397.2V174.8H397.7V174.8H398.3V174.8H398.8V174.8H399.4V174.8H399.9V174.8H400.5" fill="none" stroke="#000" stroke-width="1.3" stroke-linejoin="miter"/>
<path d="M324.5,117.7H400.5V175.1" fill="none" stroke="#4c4c4c" stroke-width="1.15"/>
<path d="M324.5,175.1H400.5" fill="none" stroke="#5e5e5e" stroke-width="1.05"/>
<line x1="324.70" y1="117.7" x2="324.70" y2="175.1" stroke="#666" stroke-width="1.2"/>
<line x1="324.65" y1="118.7" x2="324.65" y2="175.1" stroke="#1c1c1c" stroke-width="1.7" stroke-dasharray="0.95 0.78" opacity="0.5"/>
<text class="t" x="323.4" y="120.7" text-anchor="end">120</text>
<text class="t" x="318.9" y="177.1" text-anchor="end">0</text>
<text class="c" transform="translate(309.9,145.9) rotate(-90)" text-anchor="middle">counts</text>
<text class="x" x="325.5" y="182.6" text-anchor="middle">10<tspan class="s" dy="-2.6">0</tspan></text>
<text class="x" x="344.5" y="182.6" text-anchor="middle">10<tspan class="s" dy="-2.6">1</tspan></text>
<text class="x" x="363.5" y="182.6" text-anchor="middle">10<tspan class="s" dy="-2.6">2</tspan></text>
<text class="x" x="382.5" y="182.6" text-anchor="middle">10<tspan class="s" dy="-2.6">3</tspan></text>
<text class="x" x="401.5" y="182.6" text-anchor="middle">10<tspan class="s" dy="-2.6">4</tspan></text>
<text class="n" x="392.3" y="131.6" font-size="8.8px" textLength="4.8" lengthAdjust="spacingAndGlyphs">3</text>
</g>
<g>
<path d="M436.2,175.1V161.4H436.8V160.9H437.3V161.1H437.9V166.3H438.4V170.1H439.0V168.3H439.5V164.7H440.1V163.6H440.6V158.8H441.2V157.2H441.7V153.7H442.3V149.3H442.8V144.3H443.4V140.7H443.9V136.8H444.5V136.1H445.0V136.1H445.6V136.8H446.1V140.0H446.7V142.9H447.2V147.8H447.8V148.4H448.3V153.1H448.9V158.3H449.4V160.4H450.0V163.5H450.5V166.1H451.1V167.8H451.6V170.4H452.2V171.2H452.7V172.5H453.3V172.4H453.8V173.9H454.4V174.0H454.9V173.5H455.5V173.7H456.0V174.1H456.6V174.0H457.1V173.8H457.7V174.0H458.2V174.3H458.8V174.3H459.3V174.2H459.9V174.5H460.4V174.3H461.0V174.8H461.5V174.4H462.1V174.3H462.6V174.4H463.2V174.5H463.7V174.5H464.3V174.6H464.8V174.5H465.4V174.7H465.9V174.7H466.5V175.1H467.0V175.1H467.6V175.1H468.1V175.1H468.7V175.1H469.2V175.1H469.8V175.1H470.3V175.1H470.9V175.1H471.4V175.1H472.0V175.1H472.5V175.1H473.1V175.1H473.6V175.1H474.2V175.1H474.8V175.1H475.3V175.1H475.9V175.1H476.4V175.1H477.0V175.1H477.5V175.1H478.1V175.1H478.6V175.1H479.2V175.1H479.7V175.1H480.3V175.1H480.8V175.1H481.4V175.1H481.9V175.1H482.5V175.1H483.0V175.1H483.6V175.1H484.1V175.1H484.7V175.1H485.2V175.1H485.8V175.1H486.3V175.1H486.9V175.1H487.4V175.1H488.0V175.1H488.5V175.1H489.1V175.1H489.6V175.1H490.2V175.1H490.7V175.1H491.3V175.1H491.8V175.1H492.4V175.1H492.9V175.1H493.5V175.1H494.0V175.1H494.6V175.1H495.1V175.1H495.7V175.1H496.2V175.1H496.8V175.1H497.3V175.1H497.9V175.1H498.4V175.1H499.0V175.1H499.5V175.1H500.1V175.1H500.6V175.1H501.2V175.1H501.7V175.1H502.3V175.1H502.8V175.1H503.4V175.1H503.9V175.1H504.5V175.1H505.0V175.1H505.6V175.1H506.1V175.1H506.7V175.1H507.2V175.1H507.8V175.1H508.3V175.1H508.9V175.1H509.4V175.1H510.0V175.1H510.5V175.1H511.1V175.1H511.6V175.1H512.2V175.1Z" fill="#000" stroke="#000" stroke-width="0.3" stroke-linejoin="miter"/>
<path d="M437.9,174.2H438.4V170.7H439.0V168.9H439.5V165.3H440.1V164.2H440.6V159.4H441.2V157.8H441.7V154.3H442.3V149.9H442.8V144.9H443.4V141.3H443.9V138.8H444.5V137.5H445.0V136.4H445.6V141.4H446.1V140.6H446.7V143.5H447.2V148.4H447.8V149.0H448.3V147.4H448.9V148.1H449.4V144.6H450.0V142.8H450.5V142.9H451.1V139.8H451.6V138.2H452.2V137.6H452.7V140.1H453.3V141.8H453.8V145.3H454.4V149.4H454.9V152.9H455.5V158.5H456.0V158.8H456.6V165.3H457.1V166.0H457.7V170.0H458.2V167.5H458.8V172.1H459.3V170.9H459.9V173.7H460.4V174.2H461.0V173.4H461.5V174.2H462.1V172.7H462.6V174.4H463.2V172.7H463.7V174.8H464.3V174.8H464.8V173.7H465.4V174.8H465.9V172.9H466.5V173.9H467.0V174.3H467.6V173.0H468.1V174.8H468.7V174.8H469.2V174.8H469.8V174.8H470.3V174.8H470.9V174.8H471.4V174.1H472.0V174.0H472.5V174.5H473.1V174.8H473.6V174.8H474.2V174.8H474.8V174.8H475.3V174.8H475.9V174.8H476.4V174.8H477.0V174.8H477.5V174.8H478.1V174.8H478.6V174.8H479.2V174.8H479.7V174.8H480.3V174.8H480.8V174.8H481.4V174.8H481.9V174.8H482.5V174.8H483.0V174.8H483.6V174.8H484.1V174.8H484.7V174.8H485.2V174.8H485.8V174.8H486.3V174.8H486.9V174.8H487.4V174.8H488.0V174.8H488.5V174.8H489.1V174.8H489.6V174.8H490.2V174.8H490.7V174.8H491.3V174.8H491.8V174.8H492.4V174.8H492.9V174.8H493.5V174.8H494.0V174.8H494.6V174.8H495.1V174.8H495.7V174.8H496.2V174.8H496.8V174.8H497.3V174.8H497.9V174.8H498.4V174.8H499.0V174.8H499.5V174.8H500.1V174.8H500.6V174.8H501.2V174.8H501.7V174.8H502.3V174.8H502.8V174.8H503.4V174.8H503.9V174.8H504.5V174.8H505.0V174.8H505.6V174.8H506.1V174.8H506.7V174.8H507.2V174.8H507.8V174.8H508.3V174.8H508.9V174.8H509.4V174.8H510.0V174.8H510.5V174.8H511.1V174.8H511.6V174.8H512.2" fill="none" stroke="#000" stroke-width="1.3" stroke-linejoin="miter"/>
<path d="M436.2,117.7H512.2V175.1" fill="none" stroke="#4c4c4c" stroke-width="1.15"/>
<path d="M436.2,175.1H512.2" fill="none" stroke="#5e5e5e" stroke-width="1.05"/>
<line x1="436.40" y1="117.7" x2="436.40" y2="175.1" stroke="#666" stroke-width="1.2"/>
<line x1="436.35" y1="118.7" x2="436.35" y2="175.1" stroke="#1c1c1c" stroke-width="1.7" stroke-dasharray="0.95 0.78" opacity="0.5"/>
<text class="t" x="435.1" y="120.7" text-anchor="end">120</text>
<text class="t" x="430.6" y="177.1" text-anchor="end">0</text>
<text class="c" transform="translate(421.6,145.9) rotate(-90)" text-anchor="middle">counts</text>
<text class="x" x="437.2" y="182.6" text-anchor="middle">10<tspan class="s" dy="-2.6">0</tspan></text>
<text class="x" x="456.2" y="182.6" text-anchor="middle">10<tspan class="s" dy="-2.6">1</tspan></text>
<text class="x" x="475.2" y="182.6" text-anchor="middle">10<tspan class="s" dy="-2.6">2</tspan></text>
<text class="x" x="494.2" y="182.6" text-anchor="middle">10<tspan class="s" dy="-2.6">3</tspan></text>
<text class="x" x="513.2" y="182.6" text-anchor="middle">10<tspan class="s" dy="-2.6">4</tspan></text>
<text class="n" x="504.7" y="131.6" font-size="8.8px" textLength="4.8" lengthAdjust="spacingAndGlyphs">8</text>
</g>
<g>
<path d="M95.6,260.3V250.0H96.2V250.1H96.7V250.5H97.3V253.4H97.8V260.0H98.4V257.9H98.9V254.4H99.5V251.7H100.0V247.4H100.6V242.1H101.1V238.7H101.7V231.5H102.2V226.5H102.8V221.0H103.3V216.4H103.9V210.0H104.4V209.0H105.0V214.8H105.5V223.7H106.1V224.4H106.6V230.9H107.2V234.6H107.7V238.2H108.3V241.1H108.8V245.6H109.4V248.1H109.9V252.4H110.5V253.9H111.0V256.3H111.6V258.2H112.1V259.1H112.7V259.3H113.2V259.4H113.8V259.3H114.3V259.7H114.9V259.9H115.4V259.6H116.0V259.7H116.5V259.8H117.1V259.9H117.6V259.8H118.2V260.0H118.7V260.1H119.3V260.0H119.8V259.9H120.4V260.2H120.9V260.1H121.5V260.2H122.0V260.2H122.6V260.2H123.1V260.3H123.7V260.3H124.2V260.3H124.8V260.3H125.3V260.3H125.9V260.3H126.4V260.3H127.0V260.3H127.5V260.3H128.1V260.3H128.6V260.3H129.2V260.3H129.7V260.3H130.3V260.3H130.8V260.3H131.4V260.3H131.9V260.3H132.5V260.3H133.0V260.3H133.6V260.3H134.2V260.3H134.7V260.3H135.3V260.3H135.8V260.3H136.4V260.3H136.9V260.3H137.5V260.3H138.0V260.3H138.6V260.3H139.1V260.3H139.7V260.3H140.2V260.3H140.8V260.3H141.3V260.3H141.9V260.3H142.4V260.3H143.0V260.3H143.5V260.3H144.1V260.3H144.6V260.3H145.2V260.3H145.7V260.3H146.3V260.3H146.8V260.3H147.4V260.3H147.9V260.3H148.5V260.3H149.0V260.3H149.6V260.3H150.1V260.3H150.7V260.3H151.2V260.3H151.8V260.3H152.3V260.3H152.9V260.3H153.4V260.3H154.0V260.3H154.5V260.3H155.1V260.3H155.6V260.3H156.2V260.3H156.7V260.3H157.3V260.3H157.8V260.3H158.4V260.3H158.9V260.3H159.5V260.3H160.0V260.3H160.6V260.3H161.1V260.3H161.7V260.3H162.2V260.3H162.8V260.3H163.3V260.3H163.9V260.3H164.4V260.3H165.0V260.3H165.5V260.3H166.1V260.3H166.6V260.3H167.2V260.3H167.7V260.3H168.3V260.3H168.8V260.3H169.4V260.3H169.9V260.3H170.5V260.3H171.0V260.3H171.6V260.3Z" fill="#000" stroke="#000" stroke-width="0.3" stroke-linejoin="miter"/>
<path d="M98.4,258.5H98.9V255.0H99.5V252.3H100.0V248.0H100.6V242.7H101.1V239.3H101.7V232.1H102.2V227.1H102.8V221.6H103.3V217.0H103.9V211.9H104.4V208.9H105.0V215.4H105.5V224.3H106.1V225.0H106.6V231.5H107.2V235.2H107.7V238.7H108.3V240.5H108.8V244.2H109.4V243.0H109.9V246.5H110.5V242.9H111.0V245.2H111.6V243.2H112.1V245.4H112.7V245.9H113.2V245.2H113.8V248.6H114.3V246.1H114.9V249.9H115.4V249.5H116.0V251.9H116.5V249.7H117.1V249.8H117.6V252.8H118.2V254.8H118.7V252.1H119.3V251.2H119.8V252.7H120.4V254.7H120.9V254.2H121.5V253.3H122.0V256.4H122.6V254.2H123.1V249.8H123.7V255.8H124.2V253.3H124.8V249.2H125.3V251.1H125.9V250.6H126.4V252.9H127.0V255.5H127.5V248.7H128.1V251.6H128.6V251.7H129.2V248.6H129.7V250.3H130.3V252.0H130.8V254.7H131.4V252.5H131.9V252.4H132.5V253.6H133.0V254.0H133.6V254.3H134.2V252.4H134.7V253.6H135.3V251.5H135.8V250.2H136.4V252.0H136.9V252.8H137.5V249.5H138.0V251.8H138.6V256.8H139.1V255.5H139.7V254.0H140.2V256.4H140.8V253.6H141.3V258.4H141.9V258.7H142.4V254.5H143.0V255.6H143.5V259.4H144.1V257.1H144.6V255.7H145.2V259.5H145.7V260.0H146.3V260.0H146.8V260.0H147.4V260.0H147.9V260.0H148.5V260.0H149.0V260.0H149.6V260.0H150.1V260.0H150.7V260.0H151.2V260.0H151.8V260.0H152.3V260.0H152.9V260.0H153.4V260.0H154.0V260.0H154.5V260.0H155.1V260.0H155.6V260.0H156.2V260.0H156.7V260.0H157.3V260.0H157.8V260.0H158.4V260.0H158.9V260.0H159.5V260.0H160.0V260.0H160.6V260.0H161.1V260.0H161.7V260.0H162.2V260.0H162.8V260.0H163.3V260.0H163.9V260.0H164.4V260.0H165.0V260.0H165.5V260.0H166.1V260.0H166.6V260.0H167.2V260.0H167.7V260.0H168.3V260.0H168.8V260.0H169.4V260.0H169.9V260.0H170.5V260.0H171.0V260.0H171.6" fill="none" stroke="#000" stroke-width="1.3" stroke-linejoin="miter"/>
<path d="M95.6,203.4H171.6V260.3" fill="none" stroke="#4c4c4c" stroke-width="1.15"/>
<path d="M95.6,260.3H171.6" fill="none" stroke="#5e5e5e" stroke-width="1.05"/>
<line x1="95.80" y1="203.4" x2="95.80" y2="260.3" stroke="#666" stroke-width="1.2"/>
<line x1="95.75" y1="204.4" x2="95.75" y2="260.3" stroke="#1c1c1c" stroke-width="1.7" stroke-dasharray="0.95 0.78" opacity="0.5"/>
<text class="t" x="94.5" y="206.7" text-anchor="end">120</text>
<text class="t" x="90.0" y="263.4" text-anchor="end">0</text>
<text class="c" transform="translate(81.0,231.4) rotate(-90)" text-anchor="middle">counts</text>
<text class="x" x="96.6" y="267.9" text-anchor="middle">10<tspan class="s" dy="-2.6">0</tspan></text>
<text class="x" x="115.6" y="267.9" text-anchor="middle">10<tspan class="s" dy="-2.6">1</tspan></text>
<text class="x" x="134.6" y="267.9" text-anchor="middle">10<tspan class="s" dy="-2.6">2</tspan></text>
<text class="x" x="153.6" y="267.9" text-anchor="middle">10<tspan class="s" dy="-2.6">3</tspan></text>
<text class="x" x="172.6" y="267.9" text-anchor="middle">10<tspan class="s" dy="-2.6">4</tspan></text>
<text class="n" x="163.4" y="216.8" font-size="8.4px" textLength="9.7" lengthAdjust="spacingAndGlyphs">45</text>
</g>
<g>
<path d="M207.6,260.3V224.3H208.2V224.5H208.7V224.2H209.3V236.2H209.8V257.2H210.4V257.4H210.9V255.9H211.5V252.5H212.0V247.8H212.6V242.6H213.1V238.2H213.7V231.8H214.2V230.6H214.8V225.0H215.3V219.7H215.9V218.7H216.4V209.5H217.0V209.0H217.5V217.1H218.1V222.7H218.6V226.6H219.2V232.3H219.7V237.4H220.3V242.4H220.8V247.5H221.4V249.5H221.9V252.9H222.5V254.6H223.0V255.9H223.6V257.6H224.1V257.9H224.7V259.1H225.2V258.6H225.8V259.2H226.3V259.2H226.9V258.8H227.4V259.3H228.0V259.6H228.5V259.2H229.1V259.4H229.6V259.7H230.2V259.5H230.7V260.0H231.3V259.6H231.8V259.8H232.4V259.5H232.9V259.9H233.5V259.8H234.0V259.8H234.6V259.7H235.1V259.9H235.7V259.9H236.2V259.8H236.8V260.0H237.3V260.0H237.9V259.8H238.4V259.9H239.0V260.1H239.5V260.2H240.1V260.1H240.6V260.0H241.2V260.2H241.7V260.3H242.3V260.1H242.8V260.3H243.4V260.0H243.9V260.1H244.5V260.0H245.0V260.2H245.6V260.1H246.2V260.2H246.7V260.2H247.3V260.2H247.8V260.1H248.4V260.2H248.9V260.3H249.5V260.3H250.0V260.3H250.6V260.3H251.1V260.3H251.7V260.3H252.2V260.3H252.8V260.3H253.3V260.3H253.9V260.3H254.4V260.3H255.0V260.3H255.5V260.3H256.1V260.3H256.6V260.3H257.2V260.3H257.7V260.3H258.3V260.3H258.8V260.3H259.4V260.3H259.9V260.3H260.5V260.3H261.0V260.3H261.6V260.3H262.1V260.3H262.7V260.3H263.2V260.3H263.8V260.3H264.3V260.3H264.9V260.3H265.4V260.3H266.0V260.3H266.5V260.3H267.1V260.3H267.6V260.3H268.2V260.3H268.7V260.3H269.3V260.3H269.8V260.3H270.4V260.3H270.9V260.3H271.5V260.3H272.0V260.3H272.6V260.3H273.1V260.3H273.7V260.3H274.2V260.3H274.8V260.3H275.3V260.3H275.9V260.3H276.4V260.3H277.0V260.3H277.5V260.3H278.1V260.3H278.6V260.3H279.2V260.3H279.7V260.3H280.3V260.3H280.8V260.3H281.4V260.3H281.9V260.3H282.5V260.3H283.0V260.3H283.6V260.3Z" fill="#000" stroke="#000" stroke-width="0.3" stroke-linejoin="miter"/>
<path d="M208.7,248.1H209.3V244.3H209.8V245.3H210.4V245.9H210.9V245.2H211.5V244.7H212.0V243.5H212.6V241.9H213.1V238.8H213.7V232.4H214.2V231.2H214.8V225.6H215.3V220.3H215.9V219.3H216.4V209.6H217.0V209.7H217.5V217.7H218.1V223.3H218.6V227.2H219.2V232.9H219.7V238.0H220.3V243.0H220.8V248.1H221.4V250.1H221.9V253.5H222.5V255.2H223.0V256.5H223.6V258.2H224.1V258.5H224.7V259.7H225.2V259.2H225.8V259.8H226.3V259.8H226.9V259.4H227.4V259.9H228.0V260.0H228.5V259.8H229.1V260.0H229.6V260.0H230.2V260.0H230.7V260.0H231.3V260.0H231.8V260.0H232.4V260.0H232.9V260.0H233.5V260.0H234.0V260.0H234.6V260.0H235.1V260.0H235.7V260.0H236.2V260.0H236.8V260.0H237.3V260.0H237.9V260.0H238.4V260.0H239.0V260.0H239.5V260.0H240.1V260.0H240.6V260.0H241.2V260.0H241.7V260.0H242.3V260.0H242.8V260.0H243.4V260.0H243.9V260.0H244.5V260.0H245.0V260.0H245.6V260.0H246.2V260.0H246.7V260.0H247.3V260.0H247.8V260.0H248.4V260.0H248.9V260.0H249.5V260.0H250.0V260.0H250.6V260.0H251.1V260.0H251.7V260.0H252.2V260.0H252.8V260.0H253.3V260.0H253.9V260.0H254.4V260.0H255.0V260.0H255.5V260.0H256.1V260.0H256.6V260.0H257.2V260.0H257.7V260.0H258.3V260.0H258.8V260.0H259.4V260.0H259.9V260.0H260.5V260.0H261.0V260.0H261.6V260.0H262.1V260.0H262.7V260.0H263.2V260.0H263.8V260.0H264.3V260.0H264.9V260.0H265.4V260.0H266.0V260.0H266.5V260.0H267.1V260.0H267.6V260.0H268.2V260.0H268.7V260.0H269.3V260.0H269.8V260.0H270.4V260.0H270.9V260.0H271.5V260.0H272.0V260.0H272.6V260.0H273.1V260.0H273.7V260.0H274.2V260.0H274.8V260.0H275.3V260.0H275.9V260.0H276.4V260.0H277.0V260.0H277.5V260.0H278.1V260.0H278.6V260.0H279.2V260.0H279.7V260.0H280.3V260.0H280.8V260.0H281.4V260.0H281.9V260.0H282.5V260.0H283.0V260.0H283.6" fill="none" stroke="#000" stroke-width="1.3" stroke-linejoin="miter"/>
<path d="M207.6,203.4H283.6V260.3" fill="none" stroke="#4c4c4c" stroke-width="1.15"/>
<path d="M207.6,260.3H283.6" fill="none" stroke="#5e5e5e" stroke-width="1.05"/>
<line x1="207.80" y1="203.4" x2="207.80" y2="260.3" stroke="#666" stroke-width="1.2"/>
<line x1="207.75" y1="204.4" x2="207.75" y2="260.3" stroke="#1c1c1c" stroke-width="1.7" stroke-dasharray="0.95 0.78" opacity="0.5"/>
<text class="t" x="206.5" y="206.7" text-anchor="end">120</text>
<text class="t" x="202.0" y="263.4" text-anchor="end">0</text>
<text class="c" transform="translate(193.0,231.4) rotate(-90)" text-anchor="middle">counts</text>
<text class="x" x="208.6" y="267.9" text-anchor="middle">10<tspan class="s" dy="-2.6">0</tspan></text>
<text class="x" x="227.6" y="267.9" text-anchor="middle">10<tspan class="s" dy="-2.6">1</tspan></text>
<text class="x" x="246.6" y="267.9" text-anchor="middle">10<tspan class="s" dy="-2.6">2</tspan></text>
<text class="x" x="265.6" y="267.9" text-anchor="middle">10<tspan class="s" dy="-2.6">3</tspan></text>
<text class="x" x="284.6" y="267.9" text-anchor="middle">10<tspan class="s" dy="-2.6">4</tspan></text>
<text class="n" x="275.4" y="216.8" font-size="8.4px" textLength="4.8" lengthAdjust="spacingAndGlyphs">2</text>
</g>
<g>
<path d="M324.5,260.3V254.8H325.1V254.8H325.6V255.0H326.2V256.9H326.7V257.4H327.3V255.6H327.8V252.1H328.4V248.0H328.9V244.5H329.5V241.5H330.0V235.7H330.6V233.5H331.1V227.8H331.7V222.5H332.2V218.3H332.8V216.1H333.3V210.0H333.9V209.7H334.4V215.2H335.0V219.9H335.5V224.1H336.1V230.8H336.6V233.9H337.2V239.0H337.7V242.3H338.3V244.8H338.8V247.9H339.4V251.9H339.9V254.9H340.5V255.9H341.0V256.8H341.6V258.2H342.1V259.5H342.7V259.3H343.2V259.8H343.8V260.1H344.3V260.3H344.9V260.3H345.4V260.3H346.0V260.3H346.5V260.3H347.1V260.3H347.6V260.3H348.2V260.3H348.7V260.3H349.3V260.3H349.8V260.3H350.4V260.3H350.9V260.3H351.5V260.3H352.0V260.3H352.6V260.3H353.1V260.3H353.7V260.3H354.2V260.3H354.8V260.3H355.3V260.3H355.9V260.3H356.4V260.3H357.0V260.3H357.5V260.3H358.1V260.3H358.6V260.3H359.2V260.3H359.7V260.3H360.3V260.3H360.8V260.3H361.4V260.3H361.9V260.3H362.5V260.3H363.1V260.3H363.6V260.3H364.2V260.3H364.7V260.3H365.3V260.3H365.8V260.3H366.4V260.3H366.9V260.3H367.5V260.3H368.0V260.3H368.6V260.3H369.1V260.3H369.7V260.3H370.2V260.3H370.8V260.3H371.3V260.3H371.9V260.3H372.4V260.3H373.0V260.3H373.5V260.3H374.1V260.3H374.6V260.3H375.2V260.3H375.7V260.3H376.3V260.3H376.8V260.3H377.4V260.3H377.9V260.3H378.5V260.3H379.0V260.3H379.6V260.3H380.1V260.3H380.7V260.3H381.2V260.3H381.8V260.3H382.3V260.3H382.9V260.3H383.4V260.3H384.0V260.3H384.5V260.3H385.1V260.3H385.6V260.3H386.2V260.3H386.7V260.3H387.3V260.3H387.8V260.3H388.4V260.3H388.9V260.3H389.5V260.3H390.0V260.3H390.6V260.3H391.1V260.3H391.7V260.3H392.2V260.3H392.8V260.3H393.3V260.3H393.9V260.3H394.4V260.3H395.0V260.3H395.5V260.3H396.1V260.3H396.6V260.3H397.2V260.3H397.7V260.3H398.3V260.3H398.8V260.3H399.4V260.3H399.9V260.3H400.5V260.3Z" fill="#000" stroke="#000" stroke-width="0.3" stroke-linejoin="miter"/>
<path d="M341.0,258.8H341.6V259.0H342.1V258.1H342.7V257.9H343.2V256.0H343.8V257.4H344.3V255.9H344.9V253.5H345.4V255.2H346.0V252.5H346.5V254.4H347.1V249.5H347.6V252.7H348.2V248.3H348.7V249.7H349.3V249.4H349.8V245.7H350.4V243.6H350.9V241.4H351.5V239.9H352.0V238.5H352.6V237.6H353.1V233.2H353.7V231.1H354.2V227.6H354.8V223.8H355.3V222.6H355.9V218.9H356.4V218.7H357.0V222.1H357.5V225.9H358.1V228.5H358.6V233.2H359.2V235.9H359.7V238.7H360.3V245.8H360.8V246.0H361.4V252.4H361.9V253.8H362.5V253.0H363.1V257.9H363.6V258.2H364.2V258.8H364.7V258.5H365.3V259.2H365.8V259.8H366.4V260.0H366.9V260.0H367.5V260.0H368.0V260.0H368.6V260.0H369.1V260.0H369.7V260.0H370.2V260.0H370.8V260.0H371.3V260.0H371.9V260.0H372.4V260.0H373.0V260.0H373.5V260.0H374.1V260.0H374.6V260.0H375.2V260.0H375.7V260.0H376.3V260.0H376.8V260.0H377.4V260.0H377.9V260.0H378.5V260.0H379.0V260.0H379.6V260.0H380.1V260.0H380.7V260.0H381.2V260.0H381.8V260.0H382.3V260.0H382.9V260.0H383.4V260.0H384.0V260.0H384.5V260.0H385.1V260.0H385.6V260.0H386.2V260.0H386.7V260.0H387.3V260.0H387.8V260.0H388.4V260.0H388.9V260.0H389.5V260.0H390.0V260.0H390.6V260.0H391.1V260.0H391.7V260.0H392.2V260.0H392.8V260.0H393.3V260.0H393.9V260.0H394.4V260.0H395.0V260.0H395.5V260.0H396.1V260.0H396.6V260.0H397.2V260.0H397.7V260.0H398.3V260.0H398.8V260.0H399.4V260.0H399.9V260.0H400.5" fill="none" stroke="#000" stroke-width="1.3" stroke-linejoin="miter"/>
<path d="M324.5,203.4H400.5V260.3" fill="none" stroke="#4c4c4c" stroke-width="1.15"/>
<path d="M324.5,260.3H400.5" fill="none" stroke="#5e5e5e" stroke-width="1.05"/>
<line x1="324.70" y1="203.4" x2="324.70" y2="260.3" stroke="#666" stroke-width="1.2"/>
<line x1="324.65" y1="204.4" x2="324.65" y2="260.3" stroke="#1c1c1c" stroke-width="1.7" stroke-dasharray="0.95 0.78" opacity="0.5"/>
<text class="t" x="323.4" y="206.7" text-anchor="end">120</text>
<text class="t" x="318.9" y="263.4" text-anchor="end">0</text>
<text class="c" transform="translate(309.9,231.4) rotate(-90)" text-anchor="middle">counts</text>
<text class="x" x="325.5" y="267.9" text-anchor="middle">10<tspan class="s" dy="-2.6">0</tspan></text>
<text class="x" x="344.5" y="267.9" text-anchor="middle">10<tspan class="s" dy="-2.6">1</tspan></text>
<text class="x" x="363.5" y="267.9" text-anchor="middle">10<tspan class="s" dy="-2.6">2</tspan></text>
<text class="x" x="382.5" y="267.9" text-anchor="middle">10<tspan class="s" dy="-2.6">3</tspan></text>
<text class="x" x="401.5" y="267.9" text-anchor="middle">10<tspan class="s" dy="-2.6">4</tspan></text>
<text class="n" x="392.3" y="216.8" font-size="8.4px" textLength="9.7" lengthAdjust="spacingAndGlyphs">45</text>
</g>
<g>
<path d="M436.2,260.3V254.7H436.8V254.8H437.3V255.2H437.9V256.9H438.4V257.0H439.0V255.7H439.5V252.5H440.1V248.5H440.6V244.6H441.2V241.2H441.7V235.0H442.3V233.4H442.8V229.1H443.4V220.9H443.9V215.2H444.5V210.2H445.0V210.2H445.6V214.8H446.1V218.6H446.7V225.4H447.2V228.9H447.8V235.2H448.3V238.4H448.9V241.1H449.4V244.0H450.0V248.0H450.5V250.7H451.1V253.9H451.6V256.1H452.2V257.1H452.7V259.5H453.3V259.6H453.8V259.6H454.4V260.3H454.9V260.2H455.5V260.3H456.0V260.3H456.6V260.3H457.1V260.3H457.7V260.3H458.2V260.3H458.8V260.3H459.3V260.3H459.9V260.3H460.4V260.3H461.0V260.3H461.5V260.3H462.1V260.3H462.6V260.3H463.2V260.3H463.7V260.3H464.3V260.3H464.8V260.3H465.4V260.3H465.9V260.3H466.5V260.3H467.0V260.3H467.6V260.3H468.1V260.3H468.7V260.3H469.2V260.3H469.8V260.3H470.3V260.3H470.9V260.3H471.4V260.3H472.0V260.3H472.5V260.3H473.1V260.3H473.6V260.3H474.2V260.3H474.8V260.3H475.3V260.3H475.9V260.3H476.4V260.3H477.0V260.3H477.5V260.3H478.1V260.3H478.6V260.3H479.2V260.3H479.7V260.3H480.3V260.3H480.8V260.3H481.4V260.3H481.9V260.3H482.5V260.3H483.0V260.3H483.6V260.3H484.1V260.3H484.7V260.3H485.2V260.3H485.8V260.3H486.3V260.3H486.9V260.3H487.4V260.3H488.0V260.3H488.5V260.3H489.1V260.3H489.6V260.3H490.2V260.3H490.7V260.3H491.3V260.3H491.8V260.3H492.4V260.3H492.9V260.3H493.5V260.3H494.0V260.3H494.6V260.3H495.1V260.3H495.7V260.3H496.2V260.3H496.8V260.3H497.3V260.3H497.9V260.3H498.4V260.3H499.0V260.3H499.5V260.3H500.1V260.3H500.6V260.3H501.2V260.3H501.7V260.3H502.3V260.3H502.8V260.3H503.4V260.3H503.9V260.3H504.5V260.3H505.0V260.3H505.6V260.3H506.1V260.3H506.7V260.3H507.2V260.3H507.8V260.3H508.3V260.3H508.9V260.3H509.4V260.3H510.0V260.3H510.5V260.3H511.1V260.3H511.6V260.3H512.2V260.3Z" fill="#000" stroke="#000" stroke-width="0.3" stroke-linejoin="miter"/>
<path d="M449.4,259.9H450.0V260.0H450.5V260.0H451.1V259.4H451.6V259.5H452.2V258.8H452.7V260.0H453.3V259.8H453.8V258.6H454.4V259.8H454.9V257.8H455.5V259.2H456.0V260.0H456.6V259.5H457.1V258.5H457.7V257.9H458.2V259.5H458.8V258.3H459.3V259.3H459.9V259.9H460.4V260.0H461.0V258.0H461.5V259.3H462.1V258.6H462.6V257.0H463.2V257.5H463.7V259.1H464.3V258.9H464.8V258.1H465.4V260.0H465.9V257.1H466.5V258.8H467.0V256.4H467.6V258.1H468.1V257.0H468.7V254.2H469.2V253.9H469.8V251.4H470.3V254.5H470.9V253.9H471.4V248.0H472.0V249.2H472.5V251.6H473.1V248.4H473.6V245.0H474.2V244.9H474.8V244.6H475.3V240.2H475.9V237.5H476.4V234.7H477.0V232.5H477.5V230.3H478.1V228.9H478.6V226.7H479.2V224.9H479.7V222.9H480.3V223.4H480.8V227.0H481.4V228.5H481.9V231.7H482.5V234.7H483.0V238.4H483.6V241.2H484.1V245.4H484.7V249.2H485.2V251.7H485.8V254.0H486.3V257.8H486.9V257.4H487.4V257.6H488.0V259.6H488.5V258.6H489.1V260.0H489.6V260.0H490.2V260.0H490.7V260.0H491.3V260.0H491.8V260.0H492.4V260.0H492.9V260.0H493.5V260.0H494.0V260.0H494.6V260.0H495.1V260.0H495.7V260.0H496.2V260.0H496.8V260.0H497.3V260.0H497.9V260.0H498.4V260.0H499.0V260.0H499.5V260.0H500.1V260.0H500.6V260.0H501.2V260.0H501.7V260.0H502.3V260.0H502.8V260.0H503.4V260.0H503.9V260.0H504.5V260.0H505.0V260.0H505.6V260.0H506.1V260.0H506.7V260.0H507.2V260.0H507.8V260.0H508.3V260.0H508.9V260.0H509.4V260.0H510.0V260.0H510.5V260.0H511.1V260.0H511.6V260.0H512.2" fill="none" stroke="#000" stroke-width="1.3" stroke-linejoin="miter"/>
<path d="M436.2,203.4H512.2V260.3" fill="none" stroke="#4c4c4c" stroke-width="1.15"/>
<path d="M436.2,260.3H512.2" fill="none" stroke="#5e5e5e" stroke-width="1.05"/>
<line x1="436.40" y1="203.4" x2="436.40" y2="260.3" stroke="#666" stroke-width="1.2"/>
<line x1="436.35" y1="204.4" x2="436.35" y2="260.3" stroke="#1c1c1c" stroke-width="1.7" stroke-dasharray="0.95 0.78" opacity="0.5"/>
<text class="t" x="435.1" y="206.7" text-anchor="end">120</text>
<text class="t" x="430.6" y="263.4" text-anchor="end">0</text>
<text class="c" transform="translate(421.6,231.4) rotate(-90)" text-anchor="middle">counts</text>
<text class="x" x="437.2" y="267.9" text-anchor="middle">10<tspan class="s" dy="-2.6">0</tspan></text>
<text class="x" x="456.2" y="267.9" text-anchor="middle">10<tspan class="s" dy="-2.6">1</tspan></text>
<text class="x" x="475.2" y="267.9" text-anchor="middle">10<tspan class="s" dy="-2.6">2</tspan></text>
<text class="x" x="494.2" y="267.9" text-anchor="middle">10<tspan class="s" dy="-2.6">3</tspan></text>
<text class="x" x="513.2" y="267.9" text-anchor="middle">10<tspan class="s" dy="-2.6">4</tspan></text>
<text class="n" x="504.7" y="216.8" font-size="8.4px" textLength="14.5" lengthAdjust="spacingAndGlyphs">198</text>
</g>
<g>
<path d="M95.6,345.9V314.0H96.2V312.4H96.7V315.2H97.3V324.6H97.8V330.1H98.4V326.9H98.9V322.8H99.5V322.0H100.0V316.0H100.6V312.6H101.1V306.8H101.7V303.2H102.2V300.7H102.8V303.9H103.3V312.7H103.9V316.8H104.4V317.2H105.0V320.6H105.5V325.7H106.1V327.6H106.6V330.2H107.2V333.7H107.7V336.8H108.3V338.9H108.8V338.2H109.4V339.8H109.9V341.2H110.5V341.7H111.0V343.0H111.6V342.3H112.1V342.5H112.7V342.9H113.2V344.0H113.8V344.3H114.3V344.2H114.9V343.4H115.4V343.9H116.0V344.0H116.5V343.6H117.1V344.5H117.6V343.6H118.2V344.0H118.7V343.9H119.3V344.1H119.8V344.3H120.4V343.9H120.9V344.1H121.5V344.3H122.0V344.5H122.6V344.7H123.1V344.9H123.7V344.3H124.2V344.9H124.8V344.0H125.3V344.1H125.9V344.3H126.4V344.5H127.0V344.5H127.5V344.2H128.1V344.3H128.6V344.5H129.2V345.1H129.7V344.8H130.3V344.6H130.8V344.6H131.4V344.5H131.9V344.9H132.5V344.7H133.0V344.6H133.6V344.3H134.2V345.2H134.7V344.6H135.3V345.2H135.8V344.7H136.4V344.7H136.9V344.6H137.5V345.3H138.0V345.3H138.6V344.8H139.1V344.9H139.7V345.1H140.2V345.4H140.8V345.3H141.3V345.4H141.9V345.9H142.4V345.4H143.0V345.5H143.5V345.9H144.1V345.9H144.6V345.9H145.2V345.9H145.7V345.9H146.3V345.9H146.8V345.9H147.4V345.9H147.9V345.9H148.5V345.9H149.0V345.9H149.6V345.9H150.1V345.9H150.7V345.9H151.2V345.9H151.8V345.9H152.3V345.9H152.9V345.9H153.4V345.9H154.0V345.9H154.5V345.9H155.1V345.9H155.6V345.9H156.2V345.9H156.7V345.9H157.3V345.9H157.8V345.9H158.4V345.9H158.9V345.9H159.5V345.9H160.0V345.9H160.6V345.9H161.1V345.9H161.7V345.9H162.2V345.9H162.8V345.9H163.3V345.9H163.9V345.9H164.4V345.9H165.0V345.9H165.5V345.9H166.1V345.9H166.6V345.9H167.2V345.9H167.7V345.9H168.3V345.9H168.8V345.9H169.4V345.9H169.9V345.9H170.5V345.9H171.0V345.9H171.6V345.9Z" fill="#000" stroke="#000" stroke-width="0.3" stroke-linejoin="miter"/>
<path d="M95.6,289.0H171.6V345.9" fill="none" stroke="#4c4c4c" stroke-width="1.15"/>
<path d="M95.6,345.9H171.6" fill="none" stroke="#5e5e5e" stroke-width="1.05"/>
<line x1="95.80" y1="289.0" x2="95.80" y2="345.9" stroke="#666" stroke-width="1.2"/>
<line x1="95.75" y1="290.0" x2="95.75" y2="345.9" stroke="#1c1c1c" stroke-width="1.7" stroke-dasharray="0.95 0.78" opacity="0.5"/>
<text class="t" x="94.5" y="291.5" text-anchor="end">120</text>
<text class="t" x="90.0" y="347.9" text-anchor="end">0</text>
<text class="c" transform="translate(81.0,316.9) rotate(-90)" text-anchor="middle">counts</text>
<text class="x" x="96.6" y="353.8" text-anchor="middle">10<tspan class="s" dy="-2.6">0</tspan></text>
<text class="x" x="115.6" y="353.8" text-anchor="middle">10<tspan class="s" dy="-2.6">1</tspan></text>
<text class="x" x="134.6" y="353.8" text-anchor="middle">10<tspan class="s" dy="-2.6">2</tspan></text>
<text class="x" x="153.6" y="353.8" text-anchor="middle">10<tspan class="s" dy="-2.6">3</tspan></text>
<text class="x" x="172.6" y="353.8" text-anchor="middle">10<tspan class="s" dy="-2.6">4</tspan></text>
<text class="n" x="163.4" y="302.1" font-size="8.4px" textLength="4.8" lengthAdjust="spacingAndGlyphs">3</text>
</g>
<g>
<path d="M207.6,345.9V313.9H208.2V313.9H208.7V313.5H209.3V325.5H209.8V331.4H210.4V325.4H210.9V323.4H211.5V319.2H212.0V314.9H212.6V312.3H213.1V312.9H213.7V307.5H214.2V302.0H214.8V302.9H215.3V308.0H215.9V313.4H216.4V319.8H217.0V320.1H217.5V325.5H218.1V329.7H218.6V330.8H219.2V332.9H219.7V335.1H220.3V336.3H220.8V338.0H221.4V338.6H221.9V339.4H222.5V340.3H223.0V341.2H223.6V341.7H224.1V342.5H224.7V343.1H225.2V343.9H225.8V344.8H226.3V344.4H226.9V344.9H227.4V344.3H228.0V345.1H228.5V345.3H229.1V345.2H229.6V345.3H230.2V345.3H230.7V345.4H231.3V345.6H231.8V345.9H232.4V345.8H232.9V345.9H233.5V345.9H234.0V345.9H234.6V345.9H235.1V345.9H235.7V345.9H236.2V345.9H236.8V345.9H237.3V345.9H237.9V345.9H238.4V345.9H239.0V345.9H239.5V345.9H240.1V345.9H240.6V345.9H241.2V345.9H241.7V345.9H242.3V345.9H242.8V345.9H243.4V345.9H243.9V345.9H244.5V345.9H245.0V345.9H245.6V345.9H246.2V345.9H246.7V345.9H247.3V345.9H247.8V345.9H248.4V345.9H248.9V345.9H249.5V345.9H250.0V345.9H250.6V345.9H251.1V345.9H251.7V345.9H252.2V345.9H252.8V345.9H253.3V345.9H253.9V345.9H254.4V345.9H255.0V345.9H255.5V345.9H256.1V345.9H256.6V345.9H257.2V345.9H257.7V345.9H258.3V345.9H258.8V345.9H259.4V345.9H259.9V345.9H260.5V345.9H261.0V345.9H261.6V345.9H262.1V345.9H262.7V345.9H263.2V345.9H263.8V345.9H264.3V345.9H264.9V345.9H265.4V345.9H266.0V345.9H266.5V345.9H267.1V345.9H267.6V345.9H268.2V345.9H268.7V345.9H269.3V345.9H269.8V345.9H270.4V345.9H270.9V345.9H271.5V345.9H272.0V345.9H272.6V345.9H273.1V345.9H273.7V345.9H274.2V345.9H274.8V345.9H275.3V345.9H275.9V345.9H276.4V345.9H277.0V345.9H277.5V345.9H278.1V345.9H278.6V345.9H279.2V345.9H279.7V345.9H280.3V345.9H280.8V345.9H281.4V345.9H281.9V345.9H282.5V345.9H283.0V345.9H283.6V345.9Z" fill="#000" stroke="#000" stroke-width="0.3" stroke-linejoin="miter"/>
<path d="M224.7,345.0H225.2V344.3H225.8V341.3H226.3V338.8H226.9V341.8H227.4V337.1H228.0V334.3H228.5V333.1H229.1V333.4H229.6V334.3H230.2V331.4H230.7V327.6H231.3V330.4H231.8V325.7H232.4V326.8H232.9V325.8H233.5V325.1H234.0V323.3H234.6V322.5H235.1V322.8H235.7V320.7H236.2V321.6H236.8V323.1H237.3V326.4H237.9V327.3H238.4V329.0H239.0V329.6H239.5V333.4H240.1V337.9H240.6V337.8H241.2V339.8H241.7V341.3H242.3V341.2H242.8V344.6H243.4V345.6H243.9V344.0H244.5V344.6H245.0V345.6H245.6V345.6H246.2V345.6H246.7V345.6H247.3V345.6H247.8V345.6H248.4V345.6H248.9V345.6H249.5V345.6H250.0V345.6H250.6V345.6H251.1V345.6H251.7V345.6H252.2V345.6H252.8V345.6H253.3V345.6H253.9V345.6H254.4V345.6H255.0V345.6H255.5V345.6H256.1V345.6H256.6V345.6H257.2V345.6H257.7V345.6H258.3V345.6H258.8V345.6H259.4V345.6H259.9V345.6H260.5V345.6H261.0V345.6H261.6V345.6H262.1V345.6H262.7V345.6H263.2V345.6H263.8V345.6H264.3V345.6H264.9V345.6H265.4V345.6H266.0V345.6H266.5V345.6H267.1V345.6H267.6V345.6H268.2V345.6H268.7V345.6H269.3V345.6H269.8V345.6H270.4V345.6H270.9V345.6H271.5V345.6H272.0V345.6H272.6V345.6H273.1V345.6H273.7V345.6H274.2V345.6H274.8V345.6H275.3V345.6H275.9V345.6H276.4V345.6H277.0V345.6H277.5V345.6H278.1V345.6H278.6V345.6H279.2V345.6H279.7V345.6H280.3V345.6H280.8V345.6H281.4V345.6H281.9V345.6H282.5V345.6H283.0V345.6H283.6" fill="none" stroke="#000" stroke-width="1.3" stroke-linejoin="miter"/>
<path d="M207.6,289.0H283.6V345.9" fill="none" stroke="#4c4c4c" stroke-width="1.15"/>
<path d="M207.6,345.9H283.6" fill="none" stroke="#5e5e5e" stroke-width="1.05"/>
<line x1="207.80" y1="289.0" x2="207.80" y2="345.9" stroke="#666" stroke-width="1.2"/>
<line x1="207.75" y1="290.0" x2="207.75" y2="345.9" stroke="#1c1c1c" stroke-width="1.7" stroke-dasharray="0.95 0.78" opacity="0.5"/>
<text class="t" x="206.5" y="291.5" text-anchor="end">120</text>
<text class="t" x="202.0" y="347.9" text-anchor="end">0</text>
<text class="c" transform="translate(193.0,316.9) rotate(-90)" text-anchor="middle">counts</text>
<text class="x" x="208.6" y="353.8" text-anchor="middle">10<tspan class="s" dy="-2.6">0</tspan></text>
<text class="x" x="227.6" y="353.8" text-anchor="middle">10<tspan class="s" dy="-2.6">1</tspan></text>
<text class="x" x="246.6" y="353.8" text-anchor="middle">10<tspan class="s" dy="-2.6">2</tspan></text>
<text class="x" x="265.6" y="353.8" text-anchor="middle">10<tspan class="s" dy="-2.6">3</tspan></text>
<text class="x" x="284.6" y="353.8" text-anchor="middle">10<tspan class="s" dy="-2.6">4</tspan></text>
<text class="n" x="275.4" y="302.1" font-size="8.4px" textLength="9.7" lengthAdjust="spacingAndGlyphs">25</text>
</g>
<g>
<path d="M324.5,345.9V319.5H325.1V317.9H325.6V318.5H326.2V329.2H326.7V337.0H327.3V335.6H327.8V330.8H328.4V326.3H328.9V322.6H329.5V318.2H330.0V314.9H330.6V305.5H331.1V303.3H331.7V296.7H332.2V296.8H332.8V304.2H333.3V309.3H333.9V316.1H334.4V320.6H335.0V325.5H335.5V332.3H336.1V335.8H336.6V339.3H337.2V340.9H337.7V342.2H338.3V342.8H338.8V343.7H339.4V344.0H339.9V344.9H340.5V344.5H341.0V344.3H341.6V344.7H342.1V345.1H342.7V345.0H343.2V344.9H343.8V344.9H344.3V344.6H344.9V345.0H345.4V345.2H346.0V344.7H346.5V344.9H347.1V345.1H347.6V344.8H348.2V345.0H348.7V345.5H349.3V345.0H349.8V344.9H350.4V345.4H350.9V345.1H351.5V345.1H352.0V345.2H352.6V345.2H353.1V345.3H353.7V345.1H354.2V345.1H354.8V345.3H355.3V345.3H355.9V345.4H356.4V345.5H357.0V345.3H357.5V345.7H358.1V345.4H358.6V345.4H359.2V345.5H359.7V345.7H360.3V345.5H360.8V345.5H361.4V345.6H361.9V345.6H362.5V345.6H363.1V345.8H363.6V345.8H364.2V345.9H364.7V345.9H365.3V345.9H365.8V345.9H366.4V345.9H366.9V345.9H367.5V345.9H368.0V345.9H368.6V345.9H369.1V345.9H369.7V345.9H370.2V345.9H370.8V345.9H371.3V345.9H371.9V345.9H372.4V345.9H373.0V345.9H373.5V345.9H374.1V345.9H374.6V345.9H375.2V345.9H375.7V345.9H376.3V345.9H376.8V345.9H377.4V345.9H377.9V345.9H378.5V345.9H379.0V345.9H379.6V345.9H380.1V345.9H380.7V345.9H381.2V345.9H381.8V345.9H382.3V345.9H382.9V345.9H383.4V345.9H384.0V345.9H384.5V345.9H385.1V345.9H385.6V345.9H386.2V345.9H386.7V345.9H387.3V345.9H387.8V345.9H388.4V345.9H388.9V345.9H389.5V345.9H390.0V345.9H390.6V345.9H391.1V345.9H391.7V345.9H392.2V345.9H392.8V345.9H393.3V345.9H393.9V345.9H394.4V345.9H395.0V345.9H395.5V345.9H396.1V345.9H396.6V345.9H397.2V345.9H397.7V345.9H398.3V345.9H398.8V345.9H399.4V345.9H399.9V345.9H400.5V345.9Z" fill="#000" stroke="#000" stroke-width="0.3" stroke-linejoin="miter"/>
<path d="M336.6,341.7H337.2V335.5H337.7V337.1H338.3V335.6H338.8V330.8H339.4V329.9H339.9V328.2H340.5V326.1H341.0V325.7H341.6V325.8H342.1V324.0H342.7V325.4H343.2V323.7H343.8V325.1H344.3V327.5H344.9V329.9H345.4V329.5H346.0V332.0H346.5V334.5H347.1V333.4H347.6V335.5H348.2V334.4H348.7V337.2H349.3V333.8H349.8V334.3H350.4V342.0H350.9V342.4H351.5V341.3H352.0V336.6H352.6V338.9H353.1V340.3H353.7V340.5H354.2V343.5H354.8V341.4H355.3V343.8H355.9V342.1H356.4V343.4H357.0V344.0H357.5V344.3H358.1V343.3H358.6V342.6H359.2V345.6H359.7V344.5H360.3V345.4H360.8V345.6H361.4V345.6H361.9V345.6H362.5V345.6H363.1V345.6H363.6V345.6H364.2V345.6H364.7V345.6H365.3V345.6H365.8V345.6H366.4V345.6H366.9V345.6H367.5V345.6H368.0V345.6H368.6V345.6H369.1V345.6H369.7V345.6H370.2V345.6H370.8V345.6H371.3V345.6H371.9V345.6H372.4V345.6H373.0V345.6H373.5V345.6H374.1V345.6H374.6V345.6H375.2V345.6H375.7V345.6H376.3V345.6H376.8V345.6H377.4V345.6H377.9V345.6H378.5V345.6H379.0V345.6H379.6V345.6H380.1V345.6H380.7V345.6H381.2V345.6H381.8V345.6H382.3V345.6H382.9V345.6H383.4V345.6H384.0V345.6H384.5V345.6H385.1V345.6H385.6V345.6H386.2V345.6H386.7V345.6H387.3V345.6H387.8V345.6H388.4V345.6H388.9V345.6H389.5V345.6H390.0V345.6H390.6V345.6H391.1V345.6H391.7V345.6H392.2V345.6H392.8V345.6H393.3V345.6H393.9V345.6H394.4V345.6H395.0V345.6H395.5V345.6H396.1V345.6H396.6V345.6H397.2V345.6H397.7V345.6H398.3V345.6H398.8V345.6H399.4V345.6H399.9V345.6H400.5" fill="none" stroke="#000" stroke-width="1.3" stroke-linejoin="miter"/>
<path d="M324.5,289.0H400.5V345.9" fill="none" stroke="#4c4c4c" stroke-width="1.15"/>
<path d="M324.5,345.9H400.5" fill="none" stroke="#5e5e5e" stroke-width="1.05"/>
<line x1="324.70" y1="289.0" x2="324.70" y2="345.9" stroke="#666" stroke-width="1.2"/>
<line x1="324.65" y1="290.0" x2="324.65" y2="345.9" stroke="#1c1c1c" stroke-width="1.7" stroke-dasharray="0.95 0.78" opacity="0.5"/>
<text class="t" x="323.4" y="291.5" text-anchor="end">120</text>
<text class="t" x="318.9" y="347.9" text-anchor="end">0</text>
<text class="c" transform="translate(309.9,316.9) rotate(-90)" text-anchor="middle">counts</text>
<text class="x" x="325.5" y="353.8" text-anchor="middle">10<tspan class="s" dy="-2.6">0</tspan></text>
<text class="x" x="344.5" y="353.8" text-anchor="middle">10<tspan class="s" dy="-2.6">1</tspan></text>
<text class="x" x="363.5" y="353.8" text-anchor="middle">10<tspan class="s" dy="-2.6">2</tspan></text>
<text class="x" x="382.5" y="353.8" text-anchor="middle">10<tspan class="s" dy="-2.6">3</tspan></text>
<text class="x" x="401.5" y="353.8" text-anchor="middle">10<tspan class="s" dy="-2.6">4</tspan></text>
<text class="n" x="392.3" y="302.1" font-size="8.4px" textLength="9.7" lengthAdjust="spacingAndGlyphs">12</text>
</g>
<g>
<path d="M436.2,345.9V312.3H436.8V312.5H437.3V315.1H437.9V325.9H438.4V328.9H439.0V325.8H439.5V322.8H440.1V317.9H440.6V314.3H441.2V312.0H441.7V311.2H442.3V308.6H442.8V301.2H443.4V312.0H443.9V312.1H444.5V318.0H445.0V318.1H445.6V321.1H446.1V323.8H446.7V328.8H447.2V330.9H447.8V334.2H448.3V336.0H448.9V337.0H449.4V338.6H450.0V340.2H450.5V341.1H451.1V342.2H451.6V343.5H452.2V343.5H452.7V344.3H453.3V344.2H453.8V344.6H454.4V344.6H454.9V344.9H455.5V345.4H456.0V345.2H456.6V345.7H457.1V345.4H457.7V345.6H458.2V345.6H458.8V345.8H459.3V345.9H459.9V345.9H460.4V345.9H461.0V345.9H461.5V345.9H462.1V345.9H462.6V345.9H463.2V345.9H463.7V345.9H464.3V345.9H464.8V345.9H465.4V345.9H465.9V345.9H466.5V345.9H467.0V345.9H467.6V345.9H468.1V345.9H468.7V345.9H469.2V345.9H469.8V345.9H470.3V345.9H470.9V345.9H471.4V345.9H472.0V345.9H472.5V345.9H473.1V345.9H473.6V345.9H474.2V345.9H474.8V345.9H475.3V345.9H475.9V345.9H476.4V345.9H477.0V345.9H477.5V345.9H478.1V345.9H478.6V345.9H479.2V345.9H479.7V345.9H480.3V345.9H480.8V345.9H481.4V345.9H481.9V345.9H482.5V345.9H483.0V345.9H483.6V345.9H484.1V345.9H484.7V345.9H485.2V345.9H485.8V345.9H486.3V345.9H486.9V345.9H487.4V345.9H488.0V345.9H488.5V345.9H489.1V345.9H489.6V345.9H490.2V345.9H490.7V345.9H491.3V345.9H491.8V345.9H492.4V345.9H492.9V345.9H493.5V345.9H494.0V345.9H494.6V345.9H495.1V345.9H495.7V345.9H496.2V345.9H496.8V345.9H497.3V345.9H497.9V345.9H498.4V345.9H499.0V345.9H499.5V345.9H500.1V345.9H500.6V345.9H501.2V345.9H501.7V345.9H502.3V345.9H502.8V345.9H503.4V345.9H503.9V345.9H504.5V345.9H505.0V345.9H505.6V345.9H506.1V345.9H506.7V345.9H507.2V345.9H507.8V345.9H508.3V345.9H508.9V345.9H509.4V345.9H510.0V345.9H510.5V345.9H511.1V345.9H511.6V345.9H512.2V345.9Z" fill="#000" stroke="#000" stroke-width="0.3" stroke-linejoin="miter"/>
<path d="M452.2,345.5H452.7V345.0H453.3V341.0H453.8V341.9H454.4V337.7H454.9V335.2H455.5V329.4H456.0V328.4H456.6V325.7H457.1V322.8H457.7V319.8H458.2V318.5H458.8V310.9H459.3V314.8H459.9V318.7H460.4V320.6H461.0V322.8H461.5V323.8H462.1V328.1H462.6V330.9H463.2V332.3H463.7V334.8H464.3V335.1H464.8V339.1H465.4V342.1H465.9V342.0H466.5V342.0H467.0V344.8H467.6V343.0H468.1V343.2H468.7V345.6H469.2V345.4H469.8V345.6H470.3V345.6H470.9V345.2H471.4V345.6H472.0V345.6H472.5V344.8H473.1V344.0H473.6V344.8H474.2V345.4H474.8V344.7H475.3V345.4H475.9V345.6H476.4V344.8H477.0V345.6H477.5V345.2H478.1V345.6H478.6V345.6H479.2V345.6H479.7V345.6H480.3V345.6H480.8V345.6H481.4V345.6H481.9V345.6H482.5V345.6H483.0V345.6H483.6V345.6H484.1V345.6H484.7V345.6H485.2V345.6H485.8V345.6H486.3V345.6H486.9V345.6H487.4V345.6H488.0V345.6H488.5V345.6H489.1V345.6H489.6V345.6H490.2V345.6H490.7V345.6H491.3V345.6H491.8V345.6H492.4V345.6H492.9V345.6H493.5V345.6H494.0V345.6H494.6V345.6H495.1V345.6H495.7V345.6H496.2V345.6H496.8V345.6H497.3V345.6H497.9V345.6H498.4V345.6H499.0V345.6H499.5V345.6H500.1V345.6H500.6V345.6H501.2V345.6H501.7V345.6H502.3V345.6H502.8V345.6H503.4V345.6H503.9V345.6H504.5V345.6H505.0V345.6H505.6V345.6H506.1V345.6H506.7V345.6H507.2V345.6H507.8V345.6H508.3V345.6H508.9V345.6H509.4V345.6H510.0V345.6H510.5V345.6H511.1V345.6H511.6V345.6H512.2" fill="none" stroke="#000" stroke-width="1.3" stroke-linejoin="miter"/>
<path d="M436.2,289.0H512.2V345.9" fill="none" stroke="#4c4c4c" stroke-width="1.15"/>
<path d="M436.2,345.9H512.2" fill="none" stroke="#5e5e5e" stroke-width="1.05"/>
<line x1="436.40" y1="289.0" x2="436.40" y2="345.9" stroke="#666" stroke-width="1.2"/>
<line x1="436.35" y1="290.0" x2="436.35" y2="345.9" stroke="#1c1c1c" stroke-width="1.7" stroke-dasharray="0.95 0.78" opacity="0.5"/>
<text class="t" x="435.1" y="291.5" text-anchor="end">120</text>
<text class="t" x="430.6" y="347.9" text-anchor="end">0</text>
<text class="c" transform="translate(421.6,316.9) rotate(-90)" text-anchor="middle">counts</text>
<text class="x" x="437.2" y="353.8" text-anchor="middle">10<tspan class="s" dy="-2.6">0</tspan></text>
<text class="x" x="456.2" y="353.8" text-anchor="middle">10<tspan class="s" dy="-2.6">1</tspan></text>
<text class="x" x="475.2" y="353.8" text-anchor="middle">10<tspan class="s" dy="-2.6">2</tspan></text>
<text class="x" x="494.2" y="353.8" text-anchor="middle">10<tspan class="s" dy="-2.6">3</tspan></text>
<text class="x" x="513.2" y="353.8" text-anchor="middle">10<tspan class="s" dy="-2.6">4</tspan></text>
<text class="n" x="504.7" y="302.1" font-size="8.4px" textLength="9.7" lengthAdjust="spacingAndGlyphs">22</text>
</g>
</g>
</svg></body></html>
